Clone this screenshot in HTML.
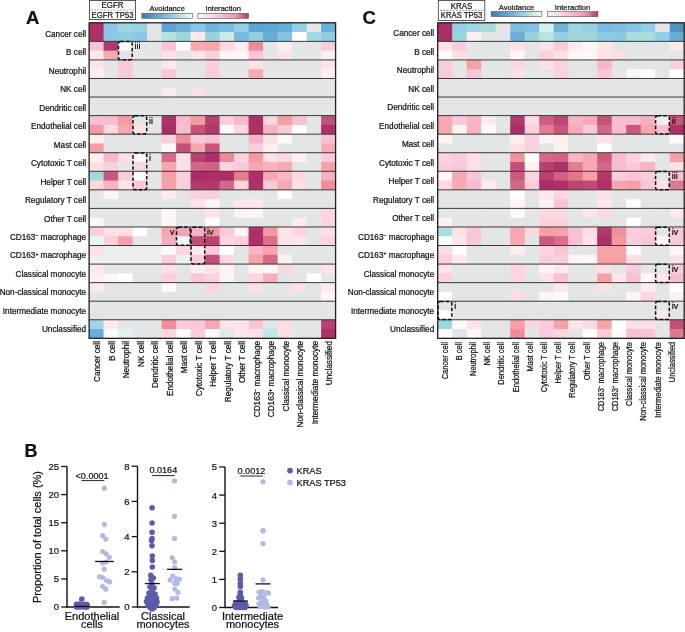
<!DOCTYPE html>
<html><head><meta charset="utf-8"><style>
html,body{margin:0;padding:0;background:#fff;}
svg{display:block;font-family:"Liberation Sans", sans-serif;filter:blur(0.3px);}
text{fill:#111;stroke:#111;stroke-width:0.22px;}
</style></head><body>
<svg width="685" height="632" viewBox="0 0 685 632">
<defs>
<linearGradient id="gav" x1="0" x2="1" y1="0" y2="0">
<stop offset="0" stop-color="#3e7cb0"/><stop offset="0.4" stop-color="#6db0d8"/><stop offset="0.65" stop-color="#9dd4e0"/><stop offset="0.85" stop-color="#cdece8"/><stop offset="1" stop-color="#f6fcfc"/></linearGradient>
<linearGradient id="gint" x1="0" x2="1" y1="0" y2="0">
<stop offset="0" stop-color="#fefafa"/><stop offset="0.45" stop-color="#f8c0d4"/><stop offset="0.75" stop-color="#f297a8"/><stop offset="1" stop-color="#b0376c"/></linearGradient>
</defs>
<rect width="685" height="632" fill="#fff"/>
<rect x="89.10" y="22.80" width="15.50" height="10.28" fill="#ad3068"/>
<rect x="89.10" y="32.08" width="15.50" height="10.28" fill="#ad3068"/>
<rect x="103.60" y="22.80" width="15.50" height="10.28" fill="#8cc5e5"/>
<rect x="103.60" y="32.08" width="15.50" height="10.28" fill="#8cc8e8"/>
<rect x="118.10" y="22.80" width="15.50" height="10.28" fill="#9dd4df"/>
<rect x="118.10" y="32.08" width="15.50" height="10.28" fill="#90cde3"/>
<rect x="132.60" y="22.80" width="15.50" height="10.28" fill="#9ad2e0"/>
<rect x="132.60" y="32.08" width="15.50" height="10.28" fill="#8cc6e8"/>
<rect x="147.10" y="22.80" width="15.50" height="10.28" fill="#e4e5e7"/>
<rect x="147.10" y="32.08" width="15.50" height="10.28" fill="#e4e5e7"/>
<rect x="161.60" y="22.80" width="15.50" height="10.28" fill="#5ea5d5"/>
<rect x="161.60" y="32.08" width="15.50" height="10.28" fill="#b6e3e2"/>
<rect x="176.10" y="22.80" width="15.50" height="10.28" fill="#6cb0da"/>
<rect x="176.10" y="32.08" width="15.50" height="10.28" fill="#9dd6de"/>
<rect x="190.60" y="22.80" width="15.50" height="10.28" fill="#8cc8e6"/>
<rect x="190.60" y="32.08" width="15.50" height="10.28" fill="#fdeaea"/>
<rect x="205.10" y="22.80" width="15.50" height="10.28" fill="#6fb5dd"/>
<rect x="205.10" y="32.08" width="15.50" height="10.28" fill="#9ad3df"/>
<rect x="219.60" y="22.80" width="15.50" height="10.28" fill="#7bbde2"/>
<rect x="219.60" y="32.08" width="15.50" height="10.28" fill="#c9ebe6"/>
<rect x="234.10" y="22.80" width="15.50" height="10.28" fill="#94cfe6"/>
<rect x="234.10" y="32.08" width="15.50" height="10.28" fill="#78b9df"/>
<rect x="248.60" y="22.80" width="15.50" height="10.28" fill="#5ea5d3"/>
<rect x="248.60" y="32.08" width="15.50" height="10.28" fill="#92cfe0"/>
<rect x="263.10" y="22.80" width="15.50" height="10.28" fill="#5fa6d4"/>
<rect x="263.10" y="32.08" width="15.50" height="10.28" fill="#68acd8"/>
<rect x="277.60" y="22.80" width="15.50" height="10.28" fill="#68acd8"/>
<rect x="277.60" y="32.08" width="15.50" height="10.28" fill="#83c3e4"/>
<rect x="292.10" y="22.80" width="15.50" height="10.28" fill="#92cfe9"/>
<rect x="292.10" y="32.08" width="15.50" height="10.28" fill="#fefefe"/>
<rect x="306.60" y="22.80" width="15.50" height="10.28" fill="#e4e5e7"/>
<rect x="306.60" y="32.08" width="15.50" height="10.28" fill="#a3d8e0"/>
<rect x="321.10" y="22.80" width="14.50" height="10.28" fill="#6aaed9"/>
<rect x="321.10" y="32.08" width="14.50" height="10.28" fill="#8fcde6"/>
<rect x="89.10" y="41.36" width="15.50" height="10.28" fill="#f9c3d3"/>
<rect x="89.10" y="50.64" width="15.50" height="10.28" fill="#fde8ea"/>
<rect x="103.60" y="41.36" width="15.50" height="10.28" fill="#b03a6c"/>
<rect x="103.60" y="50.64" width="15.50" height="10.28" fill="#f5a8ae"/>
<rect x="118.10" y="41.36" width="15.50" height="10.28" fill="#fefafa"/>
<rect x="118.10" y="50.64" width="15.50" height="10.28" fill="#e4e5e7"/>
<rect x="132.60" y="41.36" width="15.50" height="10.28" fill="#e4e5e7"/>
<rect x="132.60" y="50.64" width="15.50" height="10.28" fill="#e4e5e7"/>
<rect x="147.10" y="41.36" width="15.50" height="10.28" fill="#e4e5e7"/>
<rect x="147.10" y="50.64" width="15.50" height="10.28" fill="#e4e5e7"/>
<rect x="161.60" y="41.36" width="15.50" height="10.28" fill="#f8c3d5"/>
<rect x="161.60" y="50.64" width="15.50" height="10.28" fill="#fde2e5"/>
<rect x="176.10" y="41.36" width="15.50" height="10.28" fill="#fefefe"/>
<rect x="176.10" y="50.64" width="15.50" height="10.28" fill="#e4e5e7"/>
<rect x="190.60" y="41.36" width="15.50" height="10.28" fill="#f6a8ae"/>
<rect x="190.60" y="50.64" width="15.50" height="10.28" fill="#fde6e6"/>
<rect x="205.10" y="41.36" width="15.50" height="10.28" fill="#f5a5ab"/>
<rect x="205.10" y="50.64" width="15.50" height="10.28" fill="#facfdc"/>
<rect x="219.60" y="41.36" width="15.50" height="10.28" fill="#fdd8de"/>
<rect x="219.60" y="50.64" width="15.50" height="10.28" fill="#fef6f5"/>
<rect x="234.10" y="41.36" width="15.50" height="10.28" fill="#fdeced"/>
<rect x="234.10" y="50.64" width="15.50" height="10.28" fill="#fef6f5"/>
<rect x="248.60" y="41.36" width="15.50" height="10.28" fill="#ec8a98"/>
<rect x="248.60" y="50.64" width="15.50" height="10.28" fill="#f8c3d8"/>
<rect x="263.10" y="41.36" width="15.50" height="10.28" fill="#e4e5e7"/>
<rect x="263.10" y="50.64" width="15.50" height="10.28" fill="#e4e5e7"/>
<rect x="277.60" y="41.36" width="15.50" height="10.28" fill="#fdeeee"/>
<rect x="277.60" y="50.64" width="15.50" height="10.28" fill="#fde5e7"/>
<rect x="292.10" y="41.36" width="15.50" height="10.28" fill="#e4e5e7"/>
<rect x="292.10" y="50.64" width="15.50" height="10.28" fill="#e4e5e7"/>
<rect x="306.60" y="41.36" width="15.50" height="10.28" fill="#e4e5e7"/>
<rect x="306.60" y="50.64" width="15.50" height="10.28" fill="#e4e5e7"/>
<rect x="321.10" y="41.36" width="14.50" height="10.28" fill="#f9cddc"/>
<rect x="321.10" y="50.64" width="14.50" height="10.28" fill="#fdeeef"/>
<rect x="89.10" y="59.92" width="15.50" height="10.28" fill="#fde5e6"/>
<rect x="89.10" y="69.20" width="15.50" height="10.28" fill="#fef0f1"/>
<rect x="103.60" y="59.92" width="15.50" height="10.28" fill="#e4e5e7"/>
<rect x="103.60" y="69.20" width="15.50" height="10.28" fill="#e4e5e7"/>
<rect x="118.10" y="59.92" width="15.50" height="10.28" fill="#f9c8d8"/>
<rect x="118.10" y="69.20" width="15.50" height="10.28" fill="#f9cbd9"/>
<rect x="132.60" y="59.92" width="15.50" height="10.28" fill="#e4e5e7"/>
<rect x="132.60" y="69.20" width="15.50" height="10.28" fill="#e4e5e7"/>
<rect x="147.10" y="59.92" width="15.50" height="10.28" fill="#e4e5e7"/>
<rect x="147.10" y="69.20" width="15.50" height="10.28" fill="#e4e5e7"/>
<rect x="161.60" y="59.92" width="15.50" height="10.28" fill="#fde9ea"/>
<rect x="161.60" y="69.20" width="15.50" height="10.28" fill="#f8c8d8"/>
<rect x="176.10" y="59.92" width="15.50" height="10.28" fill="#e4e5e7"/>
<rect x="176.10" y="69.20" width="15.50" height="10.28" fill="#e4e5e7"/>
<rect x="190.60" y="59.92" width="15.50" height="10.28" fill="#e4e5e7"/>
<rect x="190.60" y="69.20" width="15.50" height="10.28" fill="#e4e5e7"/>
<rect x="205.10" y="59.92" width="15.50" height="10.28" fill="#f9d0dc"/>
<rect x="205.10" y="69.20" width="15.50" height="10.28" fill="#f9ccdb"/>
<rect x="219.60" y="59.92" width="15.50" height="10.28" fill="#e4e5e7"/>
<rect x="219.60" y="69.20" width="15.50" height="10.28" fill="#e4e5e7"/>
<rect x="234.10" y="59.92" width="15.50" height="10.28" fill="#e4e5e7"/>
<rect x="234.10" y="69.20" width="15.50" height="10.28" fill="#e4e5e7"/>
<rect x="248.60" y="59.92" width="15.50" height="10.28" fill="#fde0e4"/>
<rect x="248.60" y="69.20" width="15.50" height="10.28" fill="#f6a9b3"/>
<rect x="263.10" y="59.92" width="15.50" height="10.28" fill="#e4e5e7"/>
<rect x="263.10" y="69.20" width="15.50" height="10.28" fill="#e4e5e7"/>
<rect x="277.60" y="59.92" width="15.50" height="10.28" fill="#e4e5e7"/>
<rect x="277.60" y="69.20" width="15.50" height="10.28" fill="#e4e5e7"/>
<rect x="292.10" y="59.92" width="15.50" height="10.28" fill="#e4e5e7"/>
<rect x="292.10" y="69.20" width="15.50" height="10.28" fill="#e4e5e7"/>
<rect x="306.60" y="59.92" width="15.50" height="10.28" fill="#e4e5e7"/>
<rect x="306.60" y="69.20" width="15.50" height="10.28" fill="#e4e5e7"/>
<rect x="321.10" y="59.92" width="14.50" height="10.28" fill="#fde2e6"/>
<rect x="321.10" y="69.20" width="14.50" height="10.28" fill="#fef0f0"/>
<rect x="89.10" y="78.48" width="15.50" height="10.28" fill="#e4e5e7"/>
<rect x="89.10" y="87.76" width="15.50" height="10.28" fill="#e4e5e7"/>
<rect x="103.60" y="78.48" width="15.50" height="10.28" fill="#e4e5e7"/>
<rect x="103.60" y="87.76" width="15.50" height="10.28" fill="#e4e5e7"/>
<rect x="118.10" y="78.48" width="15.50" height="10.28" fill="#e4e5e7"/>
<rect x="118.10" y="87.76" width="15.50" height="10.28" fill="#e4e5e7"/>
<rect x="132.60" y="78.48" width="15.50" height="10.28" fill="#e4e5e7"/>
<rect x="132.60" y="87.76" width="15.50" height="10.28" fill="#e4e5e7"/>
<rect x="147.10" y="78.48" width="15.50" height="10.28" fill="#e4e5e7"/>
<rect x="147.10" y="87.76" width="15.50" height="10.28" fill="#e4e5e7"/>
<rect x="161.60" y="78.48" width="15.50" height="10.28" fill="#e4e5e7"/>
<rect x="161.60" y="87.76" width="15.50" height="10.28" fill="#fdecec"/>
<rect x="176.10" y="78.48" width="15.50" height="10.28" fill="#e4e5e7"/>
<rect x="176.10" y="87.76" width="15.50" height="10.28" fill="#e4e5e7"/>
<rect x="190.60" y="78.48" width="15.50" height="10.28" fill="#e4e5e7"/>
<rect x="190.60" y="87.76" width="15.50" height="10.28" fill="#fbe0e4"/>
<rect x="205.10" y="78.48" width="15.50" height="10.28" fill="#e4e5e7"/>
<rect x="205.10" y="87.76" width="15.50" height="10.28" fill="#e4e5e7"/>
<rect x="219.60" y="78.48" width="15.50" height="10.28" fill="#e4e5e7"/>
<rect x="219.60" y="87.76" width="15.50" height="10.28" fill="#e4e5e7"/>
<rect x="234.10" y="78.48" width="15.50" height="10.28" fill="#e4e5e7"/>
<rect x="234.10" y="87.76" width="15.50" height="10.28" fill="#e4e5e7"/>
<rect x="248.60" y="78.48" width="15.50" height="10.28" fill="#e4e5e7"/>
<rect x="248.60" y="87.76" width="15.50" height="10.28" fill="#e4e5e7"/>
<rect x="263.10" y="78.48" width="15.50" height="10.28" fill="#e4e5e7"/>
<rect x="263.10" y="87.76" width="15.50" height="10.28" fill="#e4e5e7"/>
<rect x="277.60" y="78.48" width="15.50" height="10.28" fill="#e4e5e7"/>
<rect x="277.60" y="87.76" width="15.50" height="10.28" fill="#e4e5e7"/>
<rect x="292.10" y="78.48" width="15.50" height="10.28" fill="#e4e5e7"/>
<rect x="292.10" y="87.76" width="15.50" height="10.28" fill="#e4e5e7"/>
<rect x="306.60" y="78.48" width="15.50" height="10.28" fill="#e4e5e7"/>
<rect x="306.60" y="87.76" width="15.50" height="10.28" fill="#e4e5e7"/>
<rect x="321.10" y="78.48" width="14.50" height="10.28" fill="#e4e5e7"/>
<rect x="321.10" y="87.76" width="14.50" height="10.28" fill="#e4e5e7"/>
<rect x="89.10" y="97.04" width="15.50" height="10.28" fill="#e4e5e7"/>
<rect x="89.10" y="106.32" width="15.50" height="10.28" fill="#e4e5e7"/>
<rect x="103.60" y="97.04" width="15.50" height="10.28" fill="#e4e5e7"/>
<rect x="103.60" y="106.32" width="15.50" height="10.28" fill="#e4e5e7"/>
<rect x="118.10" y="97.04" width="15.50" height="10.28" fill="#e4e5e7"/>
<rect x="118.10" y="106.32" width="15.50" height="10.28" fill="#e4e5e7"/>
<rect x="132.60" y="97.04" width="15.50" height="10.28" fill="#e4e5e7"/>
<rect x="132.60" y="106.32" width="15.50" height="10.28" fill="#e4e5e7"/>
<rect x="147.10" y="97.04" width="15.50" height="10.28" fill="#e4e5e7"/>
<rect x="147.10" y="106.32" width="15.50" height="10.28" fill="#e4e5e7"/>
<rect x="161.60" y="97.04" width="15.50" height="10.28" fill="#e4e5e7"/>
<rect x="161.60" y="106.32" width="15.50" height="10.28" fill="#e4e5e7"/>
<rect x="176.10" y="97.04" width="15.50" height="10.28" fill="#e4e5e7"/>
<rect x="176.10" y="106.32" width="15.50" height="10.28" fill="#e4e5e7"/>
<rect x="190.60" y="97.04" width="15.50" height="10.28" fill="#e4e5e7"/>
<rect x="190.60" y="106.32" width="15.50" height="10.28" fill="#e4e5e7"/>
<rect x="205.10" y="97.04" width="15.50" height="10.28" fill="#e4e5e7"/>
<rect x="205.10" y="106.32" width="15.50" height="10.28" fill="#e4e5e7"/>
<rect x="219.60" y="97.04" width="15.50" height="10.28" fill="#e4e5e7"/>
<rect x="219.60" y="106.32" width="15.50" height="10.28" fill="#e4e5e7"/>
<rect x="234.10" y="97.04" width="15.50" height="10.28" fill="#e4e5e7"/>
<rect x="234.10" y="106.32" width="15.50" height="10.28" fill="#e4e5e7"/>
<rect x="248.60" y="97.04" width="15.50" height="10.28" fill="#e4e5e7"/>
<rect x="248.60" y="106.32" width="15.50" height="10.28" fill="#e4e5e7"/>
<rect x="263.10" y="97.04" width="15.50" height="10.28" fill="#e4e5e7"/>
<rect x="263.10" y="106.32" width="15.50" height="10.28" fill="#e4e5e7"/>
<rect x="277.60" y="97.04" width="15.50" height="10.28" fill="#e4e5e7"/>
<rect x="277.60" y="106.32" width="15.50" height="10.28" fill="#e4e5e7"/>
<rect x="292.10" y="97.04" width="15.50" height="10.28" fill="#e4e5e7"/>
<rect x="292.10" y="106.32" width="15.50" height="10.28" fill="#e4e5e7"/>
<rect x="306.60" y="97.04" width="15.50" height="10.28" fill="#e4e5e7"/>
<rect x="306.60" y="106.32" width="15.50" height="10.28" fill="#e4e5e7"/>
<rect x="321.10" y="97.04" width="14.50" height="10.28" fill="#e4e5e7"/>
<rect x="321.10" y="106.32" width="14.50" height="10.28" fill="#e4e5e7"/>
<rect x="89.10" y="115.60" width="15.50" height="10.28" fill="#f9bfcf"/>
<rect x="89.10" y="124.88" width="15.50" height="10.28" fill="#f49aa3"/>
<rect x="103.60" y="115.60" width="15.50" height="10.28" fill="#f8bcd2"/>
<rect x="103.60" y="124.88" width="15.50" height="10.28" fill="#fcd9e0"/>
<rect x="118.10" y="115.60" width="15.50" height="10.28" fill="#f59a9f"/>
<rect x="118.10" y="124.88" width="15.50" height="10.28" fill="#f6a7ae"/>
<rect x="132.60" y="115.60" width="15.50" height="10.28" fill="#e4e5e7"/>
<rect x="132.60" y="124.88" width="15.50" height="10.28" fill="#fde2e5"/>
<rect x="147.10" y="115.60" width="15.50" height="10.28" fill="#e4e5e7"/>
<rect x="147.10" y="124.88" width="15.50" height="10.28" fill="#e4e5e7"/>
<rect x="161.60" y="115.60" width="15.50" height="10.28" fill="#ae3168"/>
<rect x="161.60" y="124.88" width="15.50" height="10.28" fill="#a92d65"/>
<rect x="176.10" y="115.60" width="15.50" height="10.28" fill="#f8bbcc"/>
<rect x="176.10" y="124.88" width="15.50" height="10.28" fill="#f8bed0"/>
<rect x="190.60" y="115.60" width="15.50" height="10.28" fill="#f49d9e"/>
<rect x="190.60" y="124.88" width="15.50" height="10.28" fill="#cc5378"/>
<rect x="205.10" y="115.60" width="15.50" height="10.28" fill="#b7406f"/>
<rect x="205.10" y="124.88" width="15.50" height="10.28" fill="#b13a6c"/>
<rect x="219.60" y="115.60" width="15.50" height="10.28" fill="#f9cdda"/>
<rect x="219.60" y="124.88" width="15.50" height="10.28" fill="#fff8f6"/>
<rect x="234.10" y="115.60" width="15.50" height="10.28" fill="#f7b8c8"/>
<rect x="234.10" y="124.88" width="15.50" height="10.28" fill="#fbd6df"/>
<rect x="248.60" y="115.60" width="15.50" height="10.28" fill="#ad3068"/>
<rect x="248.60" y="124.88" width="15.50" height="10.28" fill="#ad3068"/>
<rect x="263.10" y="115.60" width="15.50" height="10.28" fill="#fbd5de"/>
<rect x="263.10" y="124.88" width="15.50" height="10.28" fill="#f7b2bf"/>
<rect x="277.60" y="115.60" width="15.50" height="10.28" fill="#f59ea0"/>
<rect x="277.60" y="124.88" width="15.50" height="10.28" fill="#f8cbdb"/>
<rect x="292.10" y="115.60" width="15.50" height="10.28" fill="#f8c0d3"/>
<rect x="292.10" y="124.88" width="15.50" height="10.28" fill="#ffffff"/>
<rect x="306.60" y="115.60" width="15.50" height="10.28" fill="#e4e5e7"/>
<rect x="306.60" y="124.88" width="15.50" height="10.28" fill="#e4e5e7"/>
<rect x="321.10" y="115.60" width="14.50" height="10.28" fill="#c0507a"/>
<rect x="321.10" y="124.88" width="14.50" height="10.28" fill="#ad3068"/>
<rect x="89.10" y="134.16" width="15.50" height="10.28" fill="#fef0f0"/>
<rect x="89.10" y="143.44" width="15.50" height="10.28" fill="#f59da4"/>
<rect x="103.60" y="134.16" width="15.50" height="10.28" fill="#e4e5e7"/>
<rect x="103.60" y="143.44" width="15.50" height="10.28" fill="#e4e5e7"/>
<rect x="118.10" y="134.16" width="15.50" height="10.28" fill="#e4e5e7"/>
<rect x="118.10" y="143.44" width="15.50" height="10.28" fill="#e4e5e7"/>
<rect x="132.60" y="134.16" width="15.50" height="10.28" fill="#e4e5e7"/>
<rect x="132.60" y="143.44" width="15.50" height="10.28" fill="#e4e5e7"/>
<rect x="147.10" y="134.16" width="15.50" height="10.28" fill="#e4e5e7"/>
<rect x="147.10" y="143.44" width="15.50" height="10.28" fill="#e4e5e7"/>
<rect x="161.60" y="134.16" width="15.50" height="10.28" fill="#f9cfdc"/>
<rect x="161.60" y="143.44" width="15.50" height="10.28" fill="#fff6f5"/>
<rect x="176.10" y="134.16" width="15.50" height="10.28" fill="#ef8c97"/>
<rect x="176.10" y="143.44" width="15.50" height="10.28" fill="#c55079"/>
<rect x="190.60" y="134.16" width="15.50" height="10.28" fill="#f8c6da"/>
<rect x="190.60" y="143.44" width="15.50" height="10.28" fill="#f6a7b0"/>
<rect x="205.10" y="134.16" width="15.50" height="10.28" fill="#f8c0d3"/>
<rect x="205.10" y="143.44" width="15.50" height="10.28" fill="#c9547b"/>
<rect x="219.60" y="134.16" width="15.50" height="10.28" fill="#e4e5e7"/>
<rect x="219.60" y="143.44" width="15.50" height="10.28" fill="#e4e5e7"/>
<rect x="234.10" y="134.16" width="15.50" height="10.28" fill="#e4e5e7"/>
<rect x="234.10" y="143.44" width="15.50" height="10.28" fill="#e4e5e7"/>
<rect x="248.60" y="134.16" width="15.50" height="10.28" fill="#f6b3c3"/>
<rect x="248.60" y="143.44" width="15.50" height="10.28" fill="#f9cedc"/>
<rect x="263.10" y="134.16" width="15.50" height="10.28" fill="#fcdfe2"/>
<rect x="263.10" y="143.44" width="15.50" height="10.28" fill="#fdedee"/>
<rect x="277.60" y="134.16" width="15.50" height="10.28" fill="#fffaf8"/>
<rect x="277.60" y="143.44" width="15.50" height="10.28" fill="#e4e5e7"/>
<rect x="292.10" y="134.16" width="15.50" height="10.28" fill="#e4e5e7"/>
<rect x="292.10" y="143.44" width="15.50" height="10.28" fill="#e4e5e7"/>
<rect x="306.60" y="134.16" width="15.50" height="10.28" fill="#e4e5e7"/>
<rect x="306.60" y="143.44" width="15.50" height="10.28" fill="#e4e5e7"/>
<rect x="321.10" y="134.16" width="14.50" height="10.28" fill="#f9c3d5"/>
<rect x="321.10" y="143.44" width="14.50" height="10.28" fill="#f6acb4"/>
<rect x="89.10" y="152.72" width="15.50" height="10.28" fill="#fdeeef"/>
<rect x="89.10" y="162.00" width="15.50" height="10.28" fill="#fde0e5"/>
<rect x="103.60" y="152.72" width="15.50" height="10.28" fill="#f7b8c9"/>
<rect x="103.60" y="162.00" width="15.50" height="10.28" fill="#f9d0dc"/>
<rect x="118.10" y="152.72" width="15.50" height="10.28" fill="#fddee2"/>
<rect x="118.10" y="162.00" width="15.50" height="10.28" fill="#e4e5e7"/>
<rect x="132.60" y="152.72" width="15.50" height="10.28" fill="#fef9f8"/>
<rect x="132.60" y="162.00" width="15.50" height="10.28" fill="#fbd7df"/>
<rect x="147.10" y="152.72" width="15.50" height="10.28" fill="#e4e5e7"/>
<rect x="147.10" y="162.00" width="15.50" height="10.28" fill="#e4e5e7"/>
<rect x="161.60" y="152.72" width="15.50" height="10.28" fill="#d66a87"/>
<rect x="161.60" y="162.00" width="15.50" height="10.28" fill="#f5a6ae"/>
<rect x="176.10" y="152.72" width="15.50" height="10.28" fill="#fde0e4"/>
<rect x="176.10" y="162.00" width="15.50" height="10.28" fill="#fde0e3"/>
<rect x="190.60" y="152.72" width="15.50" height="10.28" fill="#b8416e"/>
<rect x="190.60" y="162.00" width="15.50" height="10.28" fill="#d2678a"/>
<rect x="205.10" y="152.72" width="15.50" height="10.28" fill="#ae2f67"/>
<rect x="205.10" y="162.00" width="15.50" height="10.28" fill="#cf6285"/>
<rect x="219.60" y="152.72" width="15.50" height="10.28" fill="#ec8b98"/>
<rect x="219.60" y="162.00" width="15.50" height="10.28" fill="#fad3df"/>
<rect x="234.10" y="152.72" width="15.50" height="10.28" fill="#fbd3de"/>
<rect x="234.10" y="162.00" width="15.50" height="10.28" fill="#f9c8da"/>
<rect x="248.60" y="152.72" width="15.50" height="10.28" fill="#f29aa0"/>
<rect x="248.60" y="162.00" width="15.50" height="10.28" fill="#f6a6ae"/>
<rect x="263.10" y="152.72" width="15.50" height="10.28" fill="#fde0e3"/>
<rect x="263.10" y="162.00" width="15.50" height="10.28" fill="#f7b3be"/>
<rect x="277.60" y="152.72" width="15.50" height="10.28" fill="#fbd8e0"/>
<rect x="277.60" y="162.00" width="15.50" height="10.28" fill="#f6aab5"/>
<rect x="292.10" y="152.72" width="15.50" height="10.28" fill="#fef1f0"/>
<rect x="292.10" y="162.00" width="15.50" height="10.28" fill="#e4e5e7"/>
<rect x="306.60" y="152.72" width="15.50" height="10.28" fill="#e4e5e7"/>
<rect x="306.60" y="162.00" width="15.50" height="10.28" fill="#e4e5e7"/>
<rect x="321.10" y="152.72" width="14.50" height="10.28" fill="#f9cadf"/>
<rect x="321.10" y="162.00" width="14.50" height="10.28" fill="#f5a1a6"/>
<rect x="89.10" y="171.28" width="15.50" height="10.28" fill="#a6d9dd"/>
<rect x="89.10" y="180.56" width="15.50" height="10.28" fill="#fcd9df"/>
<rect x="103.60" y="171.28" width="15.50" height="10.28" fill="#c9587c"/>
<rect x="103.60" y="180.56" width="15.50" height="10.28" fill="#f7b4c4"/>
<rect x="118.10" y="171.28" width="15.50" height="10.28" fill="#f9cddc"/>
<rect x="118.10" y="180.56" width="15.50" height="10.28" fill="#fde5e8"/>
<rect x="132.60" y="171.28" width="15.50" height="10.28" fill="#ffffff"/>
<rect x="132.60" y="180.56" width="15.50" height="10.28" fill="#f9c8da"/>
<rect x="147.10" y="171.28" width="15.50" height="10.28" fill="#e4e5e7"/>
<rect x="147.10" y="180.56" width="15.50" height="10.28" fill="#e4e5e7"/>
<rect x="161.60" y="171.28" width="15.50" height="10.28" fill="#f5a0a6"/>
<rect x="161.60" y="180.56" width="15.50" height="10.28" fill="#f5a2a8"/>
<rect x="176.10" y="171.28" width="15.50" height="10.28" fill="#f9cfdc"/>
<rect x="176.10" y="180.56" width="15.50" height="10.28" fill="#f9d0dd"/>
<rect x="190.60" y="171.28" width="15.50" height="10.28" fill="#aa2d66"/>
<rect x="190.60" y="180.56" width="15.50" height="10.28" fill="#b03a6c"/>
<rect x="205.10" y="171.28" width="15.50" height="10.28" fill="#ae3068"/>
<rect x="205.10" y="180.56" width="15.50" height="10.28" fill="#b2386c"/>
<rect x="219.60" y="171.28" width="15.50" height="10.28" fill="#ab2e67"/>
<rect x="219.60" y="180.56" width="15.50" height="10.28" fill="#d26a86"/>
<rect x="234.10" y="171.28" width="15.50" height="10.28" fill="#e37e8c"/>
<rect x="234.10" y="180.56" width="15.50" height="10.28" fill="#fbd5de"/>
<rect x="248.60" y="171.28" width="15.50" height="10.28" fill="#ad3068"/>
<rect x="248.60" y="180.56" width="15.50" height="10.28" fill="#ad3068"/>
<rect x="263.10" y="171.28" width="15.50" height="10.28" fill="#f6a9ae"/>
<rect x="263.10" y="180.56" width="15.50" height="10.28" fill="#f8cbdc"/>
<rect x="277.60" y="171.28" width="15.50" height="10.28" fill="#f7b8c8"/>
<rect x="277.60" y="180.56" width="15.50" height="10.28" fill="#f6a7b0"/>
<rect x="292.10" y="171.28" width="15.50" height="10.28" fill="#fdd9de"/>
<rect x="292.10" y="180.56" width="15.50" height="10.28" fill="#fde0e3"/>
<rect x="306.60" y="171.28" width="15.50" height="10.28" fill="#e4e5e7"/>
<rect x="306.60" y="180.56" width="15.50" height="10.28" fill="#e4e5e7"/>
<rect x="321.10" y="171.28" width="14.50" height="10.28" fill="#f6b0be"/>
<rect x="321.10" y="180.56" width="14.50" height="10.28" fill="#f08f98"/>
<rect x="89.10" y="189.84" width="15.50" height="10.28" fill="#e4e5e7"/>
<rect x="89.10" y="199.12" width="15.50" height="10.28" fill="#e4e5e7"/>
<rect x="103.60" y="189.84" width="15.50" height="10.28" fill="#fef5f3"/>
<rect x="103.60" y="199.12" width="15.50" height="10.28" fill="#e4e5e7"/>
<rect x="118.10" y="189.84" width="15.50" height="10.28" fill="#e4e5e7"/>
<rect x="118.10" y="199.12" width="15.50" height="10.28" fill="#e4e5e7"/>
<rect x="132.60" y="189.84" width="15.50" height="10.28" fill="#e4e5e7"/>
<rect x="132.60" y="199.12" width="15.50" height="10.28" fill="#e4e5e7"/>
<rect x="147.10" y="189.84" width="15.50" height="10.28" fill="#e4e5e7"/>
<rect x="147.10" y="199.12" width="15.50" height="10.28" fill="#e4e5e7"/>
<rect x="161.60" y="189.84" width="15.50" height="10.28" fill="#fdeaea"/>
<rect x="161.60" y="199.12" width="15.50" height="10.28" fill="#e4e5e7"/>
<rect x="176.10" y="189.84" width="15.50" height="10.28" fill="#e4e5e7"/>
<rect x="176.10" y="199.12" width="15.50" height="10.28" fill="#e4e5e7"/>
<rect x="190.60" y="189.84" width="15.50" height="10.28" fill="#f9d0dd"/>
<rect x="190.60" y="199.12" width="15.50" height="10.28" fill="#fde3e5"/>
<rect x="205.10" y="189.84" width="15.50" height="10.28" fill="#f9d0dd"/>
<rect x="205.10" y="199.12" width="15.50" height="10.28" fill="#fef6f5"/>
<rect x="219.60" y="189.84" width="15.50" height="10.28" fill="#e4e5e7"/>
<rect x="219.60" y="199.12" width="15.50" height="10.28" fill="#e4e5e7"/>
<rect x="234.10" y="189.84" width="15.50" height="10.28" fill="#e4e5e7"/>
<rect x="234.10" y="199.12" width="15.50" height="10.28" fill="#fde6e8"/>
<rect x="248.60" y="189.84" width="15.50" height="10.28" fill="#e4e5e7"/>
<rect x="248.60" y="199.12" width="15.50" height="10.28" fill="#fde8ea"/>
<rect x="263.10" y="189.84" width="15.50" height="10.28" fill="#e4e5e7"/>
<rect x="263.10" y="199.12" width="15.50" height="10.28" fill="#e4e5e7"/>
<rect x="277.60" y="189.84" width="15.50" height="10.28" fill="#ffffff"/>
<rect x="277.60" y="199.12" width="15.50" height="10.28" fill="#e4e5e7"/>
<rect x="292.10" y="189.84" width="15.50" height="10.28" fill="#e4e5e7"/>
<rect x="292.10" y="199.12" width="15.50" height="10.28" fill="#e4e5e7"/>
<rect x="306.60" y="189.84" width="15.50" height="10.28" fill="#e4e5e7"/>
<rect x="306.60" y="199.12" width="15.50" height="10.28" fill="#e4e5e7"/>
<rect x="321.10" y="189.84" width="14.50" height="10.28" fill="#e4e5e7"/>
<rect x="321.10" y="199.12" width="14.50" height="10.28" fill="#e4e5e7"/>
<rect x="89.10" y="208.40" width="15.50" height="10.28" fill="#e4e5e7"/>
<rect x="89.10" y="217.68" width="15.50" height="10.28" fill="#fef5f4"/>
<rect x="103.60" y="208.40" width="15.50" height="10.28" fill="#e4e5e7"/>
<rect x="103.60" y="217.68" width="15.50" height="10.28" fill="#e4e5e7"/>
<rect x="118.10" y="208.40" width="15.50" height="10.28" fill="#e4e5e7"/>
<rect x="118.10" y="217.68" width="15.50" height="10.28" fill="#e4e5e7"/>
<rect x="132.60" y="208.40" width="15.50" height="10.28" fill="#e4e5e7"/>
<rect x="132.60" y="217.68" width="15.50" height="10.28" fill="#e4e5e7"/>
<rect x="147.10" y="208.40" width="15.50" height="10.28" fill="#e4e5e7"/>
<rect x="147.10" y="217.68" width="15.50" height="10.28" fill="#e4e5e7"/>
<rect x="161.60" y="208.40" width="15.50" height="10.28" fill="#fff8f6"/>
<rect x="161.60" y="217.68" width="15.50" height="10.28" fill="#fef6f4"/>
<rect x="176.10" y="208.40" width="15.50" height="10.28" fill="#e4e5e7"/>
<rect x="176.10" y="217.68" width="15.50" height="10.28" fill="#e4e5e7"/>
<rect x="190.60" y="208.40" width="15.50" height="10.28" fill="#e4e5e7"/>
<rect x="190.60" y="217.68" width="15.50" height="10.28" fill="#e4e5e7"/>
<rect x="205.10" y="208.40" width="15.50" height="10.28" fill="#fde3e6"/>
<rect x="205.10" y="217.68" width="15.50" height="10.28" fill="#ffffff"/>
<rect x="219.60" y="208.40" width="15.50" height="10.28" fill="#e4e5e7"/>
<rect x="219.60" y="217.68" width="15.50" height="10.28" fill="#e4e5e7"/>
<rect x="234.10" y="208.40" width="15.50" height="10.28" fill="#fef3f2"/>
<rect x="234.10" y="217.68" width="15.50" height="10.28" fill="#e4e5e7"/>
<rect x="248.60" y="208.40" width="15.50" height="10.28" fill="#fef5f4"/>
<rect x="248.60" y="217.68" width="15.50" height="10.28" fill="#e4e5e7"/>
<rect x="263.10" y="208.40" width="15.50" height="10.28" fill="#e4e5e7"/>
<rect x="263.10" y="217.68" width="15.50" height="10.28" fill="#e4e5e7"/>
<rect x="277.60" y="208.40" width="15.50" height="10.28" fill="#e4e5e7"/>
<rect x="277.60" y="217.68" width="15.50" height="10.28" fill="#e4e5e7"/>
<rect x="292.10" y="208.40" width="15.50" height="10.28" fill="#e4e5e7"/>
<rect x="292.10" y="217.68" width="15.50" height="10.28" fill="#fdeced"/>
<rect x="306.60" y="208.40" width="15.50" height="10.28" fill="#e4e5e7"/>
<rect x="306.60" y="217.68" width="15.50" height="10.28" fill="#e4e5e7"/>
<rect x="321.10" y="208.40" width="14.50" height="10.28" fill="#fbd6df"/>
<rect x="321.10" y="217.68" width="14.50" height="10.28" fill="#fbd6df"/>
<rect x="89.10" y="226.96" width="15.50" height="10.28" fill="#f9cfdc"/>
<rect x="89.10" y="236.24" width="15.50" height="10.28" fill="#e5f5f4"/>
<rect x="103.60" y="226.96" width="15.50" height="10.28" fill="#fde0e5"/>
<rect x="103.60" y="236.24" width="15.50" height="10.28" fill="#fad0dc"/>
<rect x="118.10" y="226.96" width="15.50" height="10.28" fill="#fde0e4"/>
<rect x="118.10" y="236.24" width="15.50" height="10.28" fill="#f5a1a7"/>
<rect x="132.60" y="226.96" width="15.50" height="10.28" fill="#ffffff"/>
<rect x="132.60" y="236.24" width="15.50" height="10.28" fill="#e4e5e7"/>
<rect x="147.10" y="226.96" width="15.50" height="10.28" fill="#e4e5e7"/>
<rect x="147.10" y="236.24" width="15.50" height="10.28" fill="#e4e5e7"/>
<rect x="161.60" y="226.96" width="15.50" height="10.28" fill="#f6a6ae"/>
<rect x="161.60" y="236.24" width="15.50" height="10.28" fill="#f6aebc"/>
<rect x="176.10" y="226.96" width="15.50" height="10.28" fill="#f5a3b8"/>
<rect x="176.10" y="236.24" width="15.50" height="10.28" fill="#eaf6f5"/>
<rect x="190.60" y="226.96" width="15.50" height="10.28" fill="#f6b0c6"/>
<rect x="190.60" y="236.24" width="15.50" height="10.28" fill="#c04e7a"/>
<rect x="205.10" y="226.96" width="15.50" height="10.28" fill="#f29aa0"/>
<rect x="205.10" y="236.24" width="15.50" height="10.28" fill="#b84573"/>
<rect x="219.60" y="226.96" width="15.50" height="10.28" fill="#f9cadc"/>
<rect x="219.60" y="236.24" width="15.50" height="10.28" fill="#fbd5df"/>
<rect x="234.10" y="226.96" width="15.50" height="10.28" fill="#fef5f3"/>
<rect x="234.10" y="236.24" width="15.50" height="10.28" fill="#f9cfdc"/>
<rect x="248.60" y="226.96" width="15.50" height="10.28" fill="#ad3068"/>
<rect x="248.60" y="236.24" width="15.50" height="10.28" fill="#ad3068"/>
<rect x="263.10" y="226.96" width="15.50" height="10.28" fill="#f29a9f"/>
<rect x="263.10" y="236.24" width="15.50" height="10.28" fill="#d96f8b"/>
<rect x="277.60" y="226.96" width="15.50" height="10.28" fill="#fde3e6"/>
<rect x="277.60" y="236.24" width="15.50" height="10.28" fill="#fde3e6"/>
<rect x="292.10" y="226.96" width="15.50" height="10.28" fill="#fbd4de"/>
<rect x="292.10" y="236.24" width="15.50" height="10.28" fill="#fde5e7"/>
<rect x="306.60" y="226.96" width="15.50" height="10.28" fill="#e4e5e7"/>
<rect x="306.60" y="236.24" width="15.50" height="10.28" fill="#e4e5e7"/>
<rect x="321.10" y="226.96" width="14.50" height="10.28" fill="#fde0e4"/>
<rect x="321.10" y="236.24" width="14.50" height="10.28" fill="#fbd4df"/>
<rect x="89.10" y="245.52" width="15.50" height="10.28" fill="#fde0e4"/>
<rect x="89.10" y="254.80" width="15.50" height="10.28" fill="#eef0ef"/>
<rect x="103.60" y="245.52" width="15.50" height="10.28" fill="#eef0ef"/>
<rect x="103.60" y="254.80" width="15.50" height="10.28" fill="#eef0ef"/>
<rect x="118.10" y="245.52" width="15.50" height="10.28" fill="#eef0ef"/>
<rect x="118.10" y="254.80" width="15.50" height="10.28" fill="#eef0ef"/>
<rect x="132.60" y="245.52" width="15.50" height="10.28" fill="#eef0ef"/>
<rect x="132.60" y="254.80" width="15.50" height="10.28" fill="#eef0ef"/>
<rect x="147.10" y="245.52" width="15.50" height="10.28" fill="#eef0ef"/>
<rect x="147.10" y="254.80" width="15.50" height="10.28" fill="#eef0ef"/>
<rect x="161.60" y="245.52" width="15.50" height="10.28" fill="#fffafa"/>
<rect x="161.60" y="254.80" width="15.50" height="10.28" fill="#f9cfdc"/>
<rect x="176.10" y="245.52" width="15.50" height="10.28" fill="#fbd4df"/>
<rect x="176.10" y="254.80" width="15.50" height="10.28" fill="#eef0ef"/>
<rect x="190.60" y="245.52" width="15.50" height="10.28" fill="#fdeced"/>
<rect x="190.60" y="254.80" width="15.50" height="10.28" fill="#f9cbdb"/>
<rect x="205.10" y="245.52" width="15.50" height="10.28" fill="#f8c9d9"/>
<rect x="205.10" y="254.80" width="15.50" height="10.28" fill="#c0507a"/>
<rect x="219.60" y="245.52" width="15.50" height="10.28" fill="#ffffff"/>
<rect x="219.60" y="254.80" width="15.50" height="10.28" fill="#fbd6df"/>
<rect x="234.10" y="245.52" width="15.50" height="10.28" fill="#e4e5e7"/>
<rect x="234.10" y="254.80" width="15.50" height="10.28" fill="#e4e5e7"/>
<rect x="248.60" y="245.52" width="15.50" height="10.28" fill="#f7b4c5"/>
<rect x="248.60" y="254.80" width="15.50" height="10.28" fill="#f5a2a6"/>
<rect x="263.10" y="245.52" width="15.50" height="10.28" fill="#f5a3a9"/>
<rect x="263.10" y="254.80" width="15.50" height="10.28" fill="#d26a88"/>
<rect x="277.60" y="245.52" width="15.50" height="10.28" fill="#e4e5e7"/>
<rect x="277.60" y="254.80" width="15.50" height="10.28" fill="#fef1f0"/>
<rect x="292.10" y="245.52" width="15.50" height="10.28" fill="#e4e5e7"/>
<rect x="292.10" y="254.80" width="15.50" height="10.28" fill="#e4e5e7"/>
<rect x="306.60" y="245.52" width="15.50" height="10.28" fill="#e4e5e7"/>
<rect x="306.60" y="254.80" width="15.50" height="10.28" fill="#e4e5e7"/>
<rect x="321.10" y="245.52" width="14.50" height="10.28" fill="#e4e5e7"/>
<rect x="321.10" y="254.80" width="14.50" height="10.28" fill="#e4e5e7"/>
<rect x="89.10" y="264.08" width="15.50" height="10.28" fill="#fde8ea"/>
<rect x="89.10" y="273.36" width="15.50" height="10.28" fill="#fef0f0"/>
<rect x="103.60" y="264.08" width="15.50" height="10.28" fill="#e4e5e7"/>
<rect x="103.60" y="273.36" width="15.50" height="10.28" fill="#fef6f4"/>
<rect x="118.10" y="264.08" width="15.50" height="10.28" fill="#e4e5e7"/>
<rect x="118.10" y="273.36" width="15.50" height="10.28" fill="#ffffff"/>
<rect x="132.60" y="264.08" width="15.50" height="10.28" fill="#e4e5e7"/>
<rect x="132.60" y="273.36" width="15.50" height="10.28" fill="#e4e5e7"/>
<rect x="147.10" y="264.08" width="15.50" height="10.28" fill="#e4e5e7"/>
<rect x="147.10" y="273.36" width="15.50" height="10.28" fill="#e4e5e7"/>
<rect x="161.60" y="264.08" width="15.50" height="10.28" fill="#fde0e4"/>
<rect x="161.60" y="273.36" width="15.50" height="10.28" fill="#f9d0dc"/>
<rect x="176.10" y="264.08" width="15.50" height="10.28" fill="#e4e5e7"/>
<rect x="176.10" y="273.36" width="15.50" height="10.28" fill="#e4e5e7"/>
<rect x="190.60" y="264.08" width="15.50" height="10.28" fill="#fdeeef"/>
<rect x="190.60" y="273.36" width="15.50" height="10.28" fill="#f9c8da"/>
<rect x="205.10" y="264.08" width="15.50" height="10.28" fill="#fde5e7"/>
<rect x="205.10" y="273.36" width="15.50" height="10.28" fill="#f9d3dd"/>
<rect x="219.60" y="264.08" width="15.50" height="10.28" fill="#fef3f2"/>
<rect x="219.60" y="273.36" width="15.50" height="10.28" fill="#fef4f3"/>
<rect x="234.10" y="264.08" width="15.50" height="10.28" fill="#e4e5e7"/>
<rect x="234.10" y="273.36" width="15.50" height="10.28" fill="#e4e5e7"/>
<rect x="248.60" y="264.08" width="15.50" height="10.28" fill="#fef1f1"/>
<rect x="248.60" y="273.36" width="15.50" height="10.28" fill="#fbd6df"/>
<rect x="263.10" y="264.08" width="15.50" height="10.28" fill="#fef5f3"/>
<rect x="263.10" y="273.36" width="15.50" height="10.28" fill="#f6aebb"/>
<rect x="277.60" y="264.08" width="15.50" height="10.28" fill="#fad6de"/>
<rect x="277.60" y="273.36" width="15.50" height="10.28" fill="#e4e5e7"/>
<rect x="292.10" y="264.08" width="15.50" height="10.28" fill="#e4e5e7"/>
<rect x="292.10" y="273.36" width="15.50" height="10.28" fill="#e4e5e7"/>
<rect x="306.60" y="264.08" width="15.50" height="10.28" fill="#e4e5e7"/>
<rect x="306.60" y="273.36" width="15.50" height="10.28" fill="#ffffff"/>
<rect x="321.10" y="264.08" width="14.50" height="10.28" fill="#fde5e6"/>
<rect x="321.10" y="273.36" width="14.50" height="10.28" fill="#e4e5e7"/>
<rect x="89.10" y="282.64" width="15.50" height="10.28" fill="#fde8ea"/>
<rect x="89.10" y="291.92" width="15.50" height="10.28" fill="#e4e5e7"/>
<rect x="103.60" y="282.64" width="15.50" height="10.28" fill="#e4e5e7"/>
<rect x="103.60" y="291.92" width="15.50" height="10.28" fill="#e4e5e7"/>
<rect x="118.10" y="282.64" width="15.50" height="10.28" fill="#e4e5e7"/>
<rect x="118.10" y="291.92" width="15.50" height="10.28" fill="#e4e5e7"/>
<rect x="132.60" y="282.64" width="15.50" height="10.28" fill="#e4e5e7"/>
<rect x="132.60" y="291.92" width="15.50" height="10.28" fill="#e4e5e7"/>
<rect x="147.10" y="282.64" width="15.50" height="10.28" fill="#e4e5e7"/>
<rect x="147.10" y="291.92" width="15.50" height="10.28" fill="#e4e5e7"/>
<rect x="161.60" y="282.64" width="15.50" height="10.28" fill="#fffaf8"/>
<rect x="161.60" y="291.92" width="15.50" height="10.28" fill="#e4e5e7"/>
<rect x="176.10" y="282.64" width="15.50" height="10.28" fill="#e4e5e7"/>
<rect x="176.10" y="291.92" width="15.50" height="10.28" fill="#e4e5e7"/>
<rect x="190.60" y="282.64" width="15.50" height="10.28" fill="#e4e5e7"/>
<rect x="190.60" y="291.92" width="15.50" height="10.28" fill="#e4e5e7"/>
<rect x="205.10" y="282.64" width="15.50" height="10.28" fill="#fad4de"/>
<rect x="205.10" y="291.92" width="15.50" height="10.28" fill="#e4e5e7"/>
<rect x="219.60" y="282.64" width="15.50" height="10.28" fill="#e4e5e7"/>
<rect x="219.60" y="291.92" width="15.50" height="10.28" fill="#e4e5e7"/>
<rect x="234.10" y="282.64" width="15.50" height="10.28" fill="#e4e5e7"/>
<rect x="234.10" y="291.92" width="15.50" height="10.28" fill="#e4e5e7"/>
<rect x="248.60" y="282.64" width="15.50" height="10.28" fill="#fde0e4"/>
<rect x="248.60" y="291.92" width="15.50" height="10.28" fill="#e4e5e7"/>
<rect x="263.10" y="282.64" width="15.50" height="10.28" fill="#e4e5e7"/>
<rect x="263.10" y="291.92" width="15.50" height="10.28" fill="#e4e5e7"/>
<rect x="277.60" y="282.64" width="15.50" height="10.28" fill="#e4e5e7"/>
<rect x="277.60" y="291.92" width="15.50" height="10.28" fill="#e4e5e7"/>
<rect x="292.10" y="282.64" width="15.50" height="10.28" fill="#fde0e4"/>
<rect x="292.10" y="291.92" width="15.50" height="10.28" fill="#e4e5e7"/>
<rect x="306.60" y="282.64" width="15.50" height="10.28" fill="#e4e5e7"/>
<rect x="306.60" y="291.92" width="15.50" height="10.28" fill="#e4e5e7"/>
<rect x="321.10" y="282.64" width="14.50" height="10.28" fill="#fdeaeb"/>
<rect x="321.10" y="291.92" width="14.50" height="10.28" fill="#fef6f5"/>
<rect x="89.10" y="301.20" width="15.50" height="10.28" fill="#e4e5e7"/>
<rect x="89.10" y="310.48" width="15.50" height="10.28" fill="#e4e5e7"/>
<rect x="103.60" y="301.20" width="15.50" height="10.28" fill="#e4e5e7"/>
<rect x="103.60" y="310.48" width="15.50" height="10.28" fill="#e4e5e7"/>
<rect x="118.10" y="301.20" width="15.50" height="10.28" fill="#e4e5e7"/>
<rect x="118.10" y="310.48" width="15.50" height="10.28" fill="#e4e5e7"/>
<rect x="132.60" y="301.20" width="15.50" height="10.28" fill="#e4e5e7"/>
<rect x="132.60" y="310.48" width="15.50" height="10.28" fill="#e4e5e7"/>
<rect x="147.10" y="301.20" width="15.50" height="10.28" fill="#e4e5e7"/>
<rect x="147.10" y="310.48" width="15.50" height="10.28" fill="#e4e5e7"/>
<rect x="161.60" y="301.20" width="15.50" height="10.28" fill="#e4e5e7"/>
<rect x="161.60" y="310.48" width="15.50" height="10.28" fill="#e4e5e7"/>
<rect x="176.10" y="301.20" width="15.50" height="10.28" fill="#e4e5e7"/>
<rect x="176.10" y="310.48" width="15.50" height="10.28" fill="#e4e5e7"/>
<rect x="190.60" y="301.20" width="15.50" height="10.28" fill="#e4e5e7"/>
<rect x="190.60" y="310.48" width="15.50" height="10.28" fill="#e4e5e7"/>
<rect x="205.10" y="301.20" width="15.50" height="10.28" fill="#e4e5e7"/>
<rect x="205.10" y="310.48" width="15.50" height="10.28" fill="#e4e5e7"/>
<rect x="219.60" y="301.20" width="15.50" height="10.28" fill="#e4e5e7"/>
<rect x="219.60" y="310.48" width="15.50" height="10.28" fill="#e4e5e7"/>
<rect x="234.10" y="301.20" width="15.50" height="10.28" fill="#e4e5e7"/>
<rect x="234.10" y="310.48" width="15.50" height="10.28" fill="#e4e5e7"/>
<rect x="248.60" y="301.20" width="15.50" height="10.28" fill="#e4e5e7"/>
<rect x="248.60" y="310.48" width="15.50" height="10.28" fill="#e4e5e7"/>
<rect x="263.10" y="301.20" width="15.50" height="10.28" fill="#e4e5e7"/>
<rect x="263.10" y="310.48" width="15.50" height="10.28" fill="#e4e5e7"/>
<rect x="277.60" y="301.20" width="15.50" height="10.28" fill="#e4e5e7"/>
<rect x="277.60" y="310.48" width="15.50" height="10.28" fill="#e4e5e7"/>
<rect x="292.10" y="301.20" width="15.50" height="10.28" fill="#e4e5e7"/>
<rect x="292.10" y="310.48" width="15.50" height="10.28" fill="#e4e5e7"/>
<rect x="306.60" y="301.20" width="15.50" height="10.28" fill="#e4e5e7"/>
<rect x="306.60" y="310.48" width="15.50" height="10.28" fill="#e4e5e7"/>
<rect x="321.10" y="301.20" width="14.50" height="10.28" fill="#e4e5e7"/>
<rect x="321.10" y="310.48" width="14.50" height="10.28" fill="#e4e5e7"/>
<rect x="89.10" y="319.76" width="15.50" height="10.28" fill="#a1d5e5"/>
<rect x="89.10" y="329.04" width="15.50" height="9.28" fill="#6aacd9"/>
<rect x="103.60" y="319.76" width="15.50" height="10.28" fill="#fdeaea"/>
<rect x="103.60" y="329.04" width="15.50" height="9.28" fill="#f8fbfe"/>
<rect x="118.10" y="319.76" width="15.50" height="10.28" fill="#e4e5e7"/>
<rect x="118.10" y="329.04" width="15.50" height="9.28" fill="#dff3f5"/>
<rect x="132.60" y="319.76" width="15.50" height="10.28" fill="#e4e5e7"/>
<rect x="132.60" y="329.04" width="15.50" height="9.28" fill="#e4e5e7"/>
<rect x="147.10" y="319.76" width="15.50" height="10.28" fill="#e4e5e7"/>
<rect x="147.10" y="329.04" width="15.50" height="9.28" fill="#e4e5e7"/>
<rect x="161.60" y="319.76" width="15.50" height="10.28" fill="#ef8e97"/>
<rect x="161.60" y="329.04" width="15.50" height="9.28" fill="#fbd7e0"/>
<rect x="176.10" y="319.76" width="15.50" height="10.28" fill="#f9cbdc"/>
<rect x="176.10" y="329.04" width="15.50" height="9.28" fill="#fff9f8"/>
<rect x="190.60" y="319.76" width="15.50" height="10.28" fill="#f9c7d8"/>
<rect x="190.60" y="329.04" width="15.50" height="9.28" fill="#f9cfdc"/>
<rect x="205.10" y="319.76" width="15.50" height="10.28" fill="#f6a8b2"/>
<rect x="205.10" y="329.04" width="15.50" height="9.28" fill="#f6fafd"/>
<rect x="219.60" y="319.76" width="15.50" height="10.28" fill="#fde6e8"/>
<rect x="219.60" y="329.04" width="15.50" height="9.28" fill="#e4e5e7"/>
<rect x="234.10" y="319.76" width="15.50" height="10.28" fill="#fde5e7"/>
<rect x="234.10" y="329.04" width="15.50" height="9.28" fill="#fde6e8"/>
<rect x="248.60" y="319.76" width="15.50" height="10.28" fill="#f8c6da"/>
<rect x="248.60" y="329.04" width="15.50" height="9.28" fill="#fde2e5"/>
<rect x="263.10" y="319.76" width="15.50" height="10.28" fill="#e4e5e7"/>
<rect x="263.10" y="329.04" width="15.50" height="9.28" fill="#bfe9e6"/>
<rect x="277.60" y="319.76" width="15.50" height="10.28" fill="#fcdde2"/>
<rect x="277.60" y="329.04" width="15.50" height="9.28" fill="#fcdde2"/>
<rect x="292.10" y="319.76" width="15.50" height="10.28" fill="#e4e5e7"/>
<rect x="292.10" y="329.04" width="15.50" height="9.28" fill="#e4e5e7"/>
<rect x="306.60" y="319.76" width="15.50" height="10.28" fill="#e4e5e7"/>
<rect x="306.60" y="329.04" width="15.50" height="9.28" fill="#e4e5e7"/>
<rect x="321.10" y="319.76" width="14.50" height="10.28" fill="#b94370"/>
<rect x="321.10" y="329.04" width="14.50" height="9.28" fill="#ae3068"/>
<line x1="89.1" x2="335.6" y1="41.36" y2="41.36" stroke="#3a3a3a" stroke-width="1"/>
<line x1="89.1" x2="335.6" y1="59.92" y2="59.92" stroke="#3a3a3a" stroke-width="1"/>
<line x1="89.1" x2="335.6" y1="78.48" y2="78.48" stroke="#3a3a3a" stroke-width="1"/>
<line x1="89.1" x2="335.6" y1="97.04" y2="97.04" stroke="#3a3a3a" stroke-width="1"/>
<line x1="89.1" x2="335.6" y1="115.60" y2="115.60" stroke="#3a3a3a" stroke-width="1"/>
<line x1="89.1" x2="335.6" y1="134.16" y2="134.16" stroke="#3a3a3a" stroke-width="1"/>
<line x1="89.1" x2="335.6" y1="152.72" y2="152.72" stroke="#3a3a3a" stroke-width="1"/>
<line x1="89.1" x2="335.6" y1="171.28" y2="171.28" stroke="#3a3a3a" stroke-width="1"/>
<line x1="89.1" x2="335.6" y1="189.84" y2="189.84" stroke="#3a3a3a" stroke-width="1"/>
<line x1="89.1" x2="335.6" y1="208.40" y2="208.40" stroke="#3a3a3a" stroke-width="1"/>
<line x1="89.1" x2="335.6" y1="226.96" y2="226.96" stroke="#3a3a3a" stroke-width="1"/>
<line x1="89.1" x2="335.6" y1="245.52" y2="245.52" stroke="#3a3a3a" stroke-width="1"/>
<line x1="89.1" x2="335.6" y1="264.08" y2="264.08" stroke="#3a3a3a" stroke-width="1"/>
<line x1="89.1" x2="335.6" y1="282.64" y2="282.64" stroke="#3a3a3a" stroke-width="1"/>
<line x1="89.1" x2="335.6" y1="301.20" y2="301.20" stroke="#3a3a3a" stroke-width="1"/>
<line x1="89.1" x2="335.6" y1="319.76" y2="319.76" stroke="#3a3a3a" stroke-width="1"/>
<rect x="89.1" y="22.8" width="246.5" height="315.52" fill="none" stroke="#231f20" stroke-width="1.3"/>
<rect x="118.50" y="41.56" width="13.70" height="18.16" rx="2" fill="none" stroke="#111" stroke-width="1.5" stroke-dasharray="3.6 2"/>
<text x="134.60" y="49.46" font-size="9" fill="#222">iii</text>
<rect x="133.00" y="115.80" width="13.70" height="18.16" rx="2" fill="none" stroke="#111" stroke-width="1.5" stroke-dasharray="3.6 2"/>
<text x="149.10" y="123.70" font-size="9" fill="#222">ii</text>
<rect x="133.00" y="152.92" width="13.70" height="36.72" rx="2" fill="none" stroke="#111" stroke-width="1.5" stroke-dasharray="3.6 2"/>
<text x="149.10" y="160.82" font-size="9" fill="#777">i</text>
<rect x="176.50" y="227.16" width="13.70" height="18.16" rx="2" fill="none" stroke="#111" stroke-width="1.5" stroke-dasharray="3.6 2"/>
<text x="174.50" y="235.06" font-size="9" fill="#222" text-anchor="end">v</text>
<rect x="191.00" y="227.16" width="13.70" height="36.72" rx="2" fill="none" stroke="#111" stroke-width="1.5" stroke-dasharray="3.6 2"/>
<text x="207.10" y="235.06" font-size="9" fill="#222">iv</text>
<text x="86.1" y="36.60" font-size="8.2" text-anchor="end">Cancer cell</text>
<text x="86.1" y="55.09" font-size="8.2" text-anchor="end">B cell</text>
<text x="86.1" y="73.58" font-size="8.2" text-anchor="end">Neutrophil</text>
<text x="86.1" y="92.07" font-size="8.2" text-anchor="end">NK cell</text>
<text x="86.1" y="110.56" font-size="8.2" text-anchor="end">Dendritic cell</text>
<text x="86.1" y="129.05" font-size="8.2" text-anchor="end">Endothelial cell</text>
<text x="86.1" y="147.54" font-size="8.2" text-anchor="end">Mast cell</text>
<text x="86.1" y="166.03" font-size="8.2" text-anchor="end">Cytotoxic T cell</text>
<text x="86.1" y="184.52" font-size="8.2" text-anchor="end">Helper T cell</text>
<text x="86.1" y="203.01" font-size="8.2" text-anchor="end">Regulatory T cell</text>
<text x="86.1" y="221.50" font-size="8.2" text-anchor="end">Other T cell</text>
<text x="86.1" y="239.99" font-size="8.2" text-anchor="end">CD163<tspan font-size="5" dy="-2.6">−</tspan><tspan dy="2.6"> macrophage</tspan></text>
<text x="86.1" y="258.48" font-size="8.2" text-anchor="end">CD163<tspan font-size="5" dy="-2.6">+</tspan><tspan dy="2.6"> macrophage</tspan></text>
<text x="86.1" y="276.97" font-size="8.2" text-anchor="end">Classical monocyte</text>
<text x="86.1" y="295.46" font-size="8.2" text-anchor="end">Non-classical monocyte</text>
<text x="86.1" y="313.95" font-size="8.2" text-anchor="end">Intermediate monocyte</text>
<text x="86.1" y="332.44" font-size="8.2" text-anchor="end">Unclassified</text>
<text transform="translate(100.20,341) rotate(-90) scale(1,1)" font-size="8.2" text-anchor="end">Cancer cell</text>
<text transform="translate(114.70,341) rotate(-90) scale(1,1)" font-size="8.2" text-anchor="end">B cell</text>
<text transform="translate(129.20,341) rotate(-90) scale(1,1)" font-size="8.2" text-anchor="end">Neutrophil</text>
<text transform="translate(143.70,341) rotate(-90) scale(1,1)" font-size="8.2" text-anchor="end">NK cell</text>
<text transform="translate(158.20,341) rotate(-90) scale(1,1)" font-size="8.2" text-anchor="end">Dendritic cell</text>
<text transform="translate(172.70,341) rotate(-90) scale(1,1)" font-size="8.2" text-anchor="end">Endothelial cell</text>
<text transform="translate(187.20,341) rotate(-90) scale(1,1)" font-size="8.2" text-anchor="end">Mast cell</text>
<text transform="translate(201.70,341) rotate(-90) scale(1,1)" font-size="8.2" text-anchor="end">Cytotoxic T cell</text>
<text transform="translate(216.20,341) rotate(-90) scale(1,1)" font-size="8.2" text-anchor="end">Helper T cell</text>
<text transform="translate(230.70,341) rotate(-90) scale(1,1)" font-size="8.2" text-anchor="end">Regulatory T cell</text>
<text transform="translate(245.20,341) rotate(-90) scale(1,1)" font-size="8.2" text-anchor="end">Other T cell</text>
<text transform="translate(259.70,341) rotate(-90) scale(1,1)" font-size="8.2" text-anchor="end">CD163<tspan font-size="5" dy="-2.6">−</tspan><tspan dy="2.6"> macrophage</tspan></text>
<text transform="translate(274.20,341) rotate(-90) scale(1,1)" font-size="8.2" text-anchor="end">CD163<tspan font-size="5" dy="-2.6">+</tspan><tspan dy="2.6"> macrophage</tspan></text>
<text transform="translate(288.70,341) rotate(-90) scale(1,1)" font-size="8.2" text-anchor="end">Classical monocyte</text>
<text transform="translate(303.20,341) rotate(-90) scale(1,1)" font-size="8.2" text-anchor="end">Non-classical monocyte</text>
<text transform="translate(317.70,341) rotate(-90) scale(1,1)" font-size="8.2" text-anchor="end">Intermediate monocyte</text>
<text transform="translate(332.20,341) rotate(-90) scale(1,1)" font-size="8.2" text-anchor="end">Unclassified</text>
<rect x="437.70" y="22.80" width="15.50" height="10.28" fill="#ab2f67"/>
<rect x="437.70" y="32.08" width="15.50" height="10.28" fill="#ab2f67"/>
<rect x="452.20" y="22.80" width="15.50" height="10.28" fill="#93d0e6"/>
<rect x="452.20" y="32.08" width="15.50" height="10.28" fill="#9ad4dd"/>
<rect x="466.70" y="22.80" width="15.50" height="10.28" fill="#9fd7e2"/>
<rect x="466.70" y="32.08" width="15.50" height="10.28" fill="#fdeff0"/>
<rect x="481.20" y="22.80" width="15.50" height="10.28" fill="#a8dcdb"/>
<rect x="481.20" y="32.08" width="15.50" height="10.28" fill="#e4e5e7"/>
<rect x="495.70" y="22.80" width="15.50" height="10.28" fill="#e4e5e7"/>
<rect x="495.70" y="32.08" width="15.50" height="10.28" fill="#e4e5e7"/>
<rect x="510.20" y="22.80" width="15.50" height="10.28" fill="#7ebee0"/>
<rect x="510.20" y="32.08" width="15.50" height="10.28" fill="#6aaed9"/>
<rect x="524.70" y="22.80" width="15.50" height="10.28" fill="#84c2e2"/>
<rect x="524.70" y="32.08" width="15.50" height="10.28" fill="#97d3df"/>
<rect x="539.20" y="22.80" width="15.50" height="10.28" fill="#d5eeee"/>
<rect x="539.20" y="32.08" width="15.50" height="10.28" fill="#b8e3df"/>
<rect x="553.70" y="22.80" width="15.50" height="10.28" fill="#6fb2da"/>
<rect x="553.70" y="32.08" width="15.50" height="10.28" fill="#94cfe6"/>
<rect x="568.20" y="22.80" width="15.50" height="10.28" fill="#9ed6e2"/>
<rect x="568.20" y="32.08" width="15.50" height="10.28" fill="#9dd5d9"/>
<rect x="582.70" y="22.80" width="15.50" height="10.28" fill="#95d1e2"/>
<rect x="582.70" y="32.08" width="15.50" height="10.28" fill="#9dd5d9"/>
<rect x="597.20" y="22.80" width="15.50" height="10.28" fill="#7bbbdf"/>
<rect x="597.20" y="32.08" width="15.50" height="10.28" fill="#8ecbe2"/>
<rect x="611.70" y="22.80" width="15.50" height="10.28" fill="#7ebee0"/>
<rect x="611.70" y="32.08" width="15.50" height="10.28" fill="#8bcae2"/>
<rect x="626.20" y="22.80" width="15.50" height="10.28" fill="#88c5e4"/>
<rect x="626.20" y="32.08" width="15.50" height="10.28" fill="#a8dddb"/>
<rect x="640.70" y="22.80" width="15.50" height="10.28" fill="#92cee6"/>
<rect x="640.70" y="32.08" width="15.50" height="10.28" fill="#a8dddb"/>
<rect x="655.20" y="22.80" width="15.50" height="10.28" fill="#e4e5e7"/>
<rect x="655.20" y="32.08" width="15.50" height="10.28" fill="#92cde9"/>
<rect x="669.70" y="22.80" width="14.50" height="10.28" fill="#4f93c1"/>
<rect x="669.70" y="32.08" width="14.50" height="10.28" fill="#68acd8"/>
<rect x="437.70" y="41.36" width="15.50" height="10.28" fill="#fde2e5"/>
<rect x="437.70" y="50.64" width="15.50" height="10.28" fill="#fffaf9"/>
<rect x="452.20" y="41.36" width="15.50" height="10.28" fill="#f9cddc"/>
<rect x="452.20" y="50.64" width="15.50" height="10.28" fill="#fde1e5"/>
<rect x="466.70" y="41.36" width="15.50" height="10.28" fill="#e4e5e7"/>
<rect x="466.70" y="50.64" width="15.50" height="10.28" fill="#e4e5e7"/>
<rect x="481.20" y="41.36" width="15.50" height="10.28" fill="#e4e5e7"/>
<rect x="481.20" y="50.64" width="15.50" height="10.28" fill="#e4e5e7"/>
<rect x="495.70" y="41.36" width="15.50" height="10.28" fill="#e4e5e7"/>
<rect x="495.70" y="50.64" width="15.50" height="10.28" fill="#e4e5e7"/>
<rect x="510.20" y="41.36" width="15.50" height="10.28" fill="#fde2e5"/>
<rect x="510.20" y="50.64" width="15.50" height="10.28" fill="#fff6f5"/>
<rect x="524.70" y="41.36" width="15.50" height="10.28" fill="#e4e5e7"/>
<rect x="524.70" y="50.64" width="15.50" height="10.28" fill="#e4e5e7"/>
<rect x="539.20" y="41.36" width="15.50" height="10.28" fill="#fde2e5"/>
<rect x="539.20" y="50.64" width="15.50" height="10.28" fill="#f9d0dc"/>
<rect x="553.70" y="41.36" width="15.50" height="10.28" fill="#f9cddc"/>
<rect x="553.70" y="50.64" width="15.50" height="10.28" fill="#fde1e5"/>
<rect x="568.20" y="41.36" width="15.50" height="10.28" fill="#fdebed"/>
<rect x="568.20" y="50.64" width="15.50" height="10.28" fill="#fef4f3"/>
<rect x="582.70" y="41.36" width="15.50" height="10.28" fill="#fff6f5"/>
<rect x="582.70" y="50.64" width="15.50" height="10.28" fill="#fff7f6"/>
<rect x="597.20" y="41.36" width="15.50" height="10.28" fill="#fde6e8"/>
<rect x="597.20" y="50.64" width="15.50" height="10.28" fill="#fde2e5"/>
<rect x="611.70" y="41.36" width="15.50" height="10.28" fill="#e4e5e7"/>
<rect x="611.70" y="50.64" width="15.50" height="10.28" fill="#fde0e3"/>
<rect x="626.20" y="41.36" width="15.50" height="10.28" fill="#e4e5e7"/>
<rect x="626.20" y="50.64" width="15.50" height="10.28" fill="#e4e5e7"/>
<rect x="640.70" y="41.36" width="15.50" height="10.28" fill="#e4e5e7"/>
<rect x="640.70" y="50.64" width="15.50" height="10.28" fill="#e4e5e7"/>
<rect x="655.20" y="41.36" width="15.50" height="10.28" fill="#e4e5e7"/>
<rect x="655.20" y="50.64" width="15.50" height="10.28" fill="#e4e5e7"/>
<rect x="669.70" y="41.36" width="14.50" height="10.28" fill="#fdeaeb"/>
<rect x="669.70" y="50.64" width="14.50" height="10.28" fill="#e4e5e7"/>
<rect x="437.70" y="59.92" width="15.50" height="10.28" fill="#f9ccdb"/>
<rect x="437.70" y="69.20" width="15.50" height="10.28" fill="#f9ccdb"/>
<rect x="452.20" y="59.92" width="15.50" height="10.28" fill="#e4e5e7"/>
<rect x="452.20" y="69.20" width="15.50" height="10.28" fill="#e4e5e7"/>
<rect x="466.70" y="59.92" width="15.50" height="10.28" fill="#f5a2a5"/>
<rect x="466.70" y="69.20" width="15.50" height="10.28" fill="#f9c6d8"/>
<rect x="481.20" y="59.92" width="15.50" height="10.28" fill="#e4e5e7"/>
<rect x="481.20" y="69.20" width="15.50" height="10.28" fill="#e4e5e7"/>
<rect x="495.70" y="59.92" width="15.50" height="10.28" fill="#e4e5e7"/>
<rect x="495.70" y="69.20" width="15.50" height="10.28" fill="#e4e5e7"/>
<rect x="510.20" y="59.92" width="15.50" height="10.28" fill="#fbd7df"/>
<rect x="510.20" y="69.20" width="15.50" height="10.28" fill="#fde1e4"/>
<rect x="524.70" y="59.92" width="15.50" height="10.28" fill="#e4e5e7"/>
<rect x="524.70" y="69.20" width="15.50" height="10.28" fill="#e4e5e7"/>
<rect x="539.20" y="59.92" width="15.50" height="10.28" fill="#fde0e4"/>
<rect x="539.20" y="69.20" width="15.50" height="10.28" fill="#e4e5e7"/>
<rect x="553.70" y="59.92" width="15.50" height="10.28" fill="#fad3df"/>
<rect x="553.70" y="69.20" width="15.50" height="10.28" fill="#f9d0dc"/>
<rect x="568.20" y="59.92" width="15.50" height="10.28" fill="#e4e5e7"/>
<rect x="568.20" y="69.20" width="15.50" height="10.28" fill="#e4e5e7"/>
<rect x="582.70" y="59.92" width="15.50" height="10.28" fill="#e4e5e7"/>
<rect x="582.70" y="69.20" width="15.50" height="10.28" fill="#e4e5e7"/>
<rect x="597.20" y="59.92" width="15.50" height="10.28" fill="#f7b8c6"/>
<rect x="597.20" y="69.20" width="15.50" height="10.28" fill="#f9c8d8"/>
<rect x="611.70" y="59.92" width="15.50" height="10.28" fill="#e4e5e7"/>
<rect x="611.70" y="69.20" width="15.50" height="10.28" fill="#e4e5e7"/>
<rect x="626.20" y="59.92" width="15.50" height="10.28" fill="#e4e5e7"/>
<rect x="626.20" y="69.20" width="15.50" height="10.28" fill="#fef6f5"/>
<rect x="640.70" y="59.92" width="15.50" height="10.28" fill="#e4e5e7"/>
<rect x="640.70" y="69.20" width="15.50" height="10.28" fill="#fffbf9"/>
<rect x="655.20" y="59.92" width="15.50" height="10.28" fill="#e4e5e7"/>
<rect x="655.20" y="69.20" width="15.50" height="10.28" fill="#e4e5e7"/>
<rect x="669.70" y="59.92" width="14.50" height="10.28" fill="#f9cfdc"/>
<rect x="669.70" y="69.20" width="14.50" height="10.28" fill="#ffffff"/>
<rect x="437.70" y="78.48" width="15.50" height="10.28" fill="#e4e5e7"/>
<rect x="437.70" y="87.76" width="15.50" height="10.28" fill="#e4e5e7"/>
<rect x="452.20" y="78.48" width="15.50" height="10.28" fill="#e4e5e7"/>
<rect x="452.20" y="87.76" width="15.50" height="10.28" fill="#e4e5e7"/>
<rect x="466.70" y="78.48" width="15.50" height="10.28" fill="#e4e5e7"/>
<rect x="466.70" y="87.76" width="15.50" height="10.28" fill="#e4e5e7"/>
<rect x="481.20" y="78.48" width="15.50" height="10.28" fill="#e4e5e7"/>
<rect x="481.20" y="87.76" width="15.50" height="10.28" fill="#e4e5e7"/>
<rect x="495.70" y="78.48" width="15.50" height="10.28" fill="#e4e5e7"/>
<rect x="495.70" y="87.76" width="15.50" height="10.28" fill="#e4e5e7"/>
<rect x="510.20" y="78.48" width="15.50" height="10.28" fill="#e4e5e7"/>
<rect x="510.20" y="87.76" width="15.50" height="10.28" fill="#e4e5e7"/>
<rect x="524.70" y="78.48" width="15.50" height="10.28" fill="#e4e5e7"/>
<rect x="524.70" y="87.76" width="15.50" height="10.28" fill="#e4e5e7"/>
<rect x="539.20" y="78.48" width="15.50" height="10.28" fill="#e4e5e7"/>
<rect x="539.20" y="87.76" width="15.50" height="10.28" fill="#e4e5e7"/>
<rect x="553.70" y="78.48" width="15.50" height="10.28" fill="#e4e5e7"/>
<rect x="553.70" y="87.76" width="15.50" height="10.28" fill="#e4e5e7"/>
<rect x="568.20" y="78.48" width="15.50" height="10.28" fill="#e4e5e7"/>
<rect x="568.20" y="87.76" width="15.50" height="10.28" fill="#e4e5e7"/>
<rect x="582.70" y="78.48" width="15.50" height="10.28" fill="#e4e5e7"/>
<rect x="582.70" y="87.76" width="15.50" height="10.28" fill="#e4e5e7"/>
<rect x="597.20" y="78.48" width="15.50" height="10.28" fill="#e4e5e7"/>
<rect x="597.20" y="87.76" width="15.50" height="10.28" fill="#e4e5e7"/>
<rect x="611.70" y="78.48" width="15.50" height="10.28" fill="#e4e5e7"/>
<rect x="611.70" y="87.76" width="15.50" height="10.28" fill="#e4e5e7"/>
<rect x="626.20" y="78.48" width="15.50" height="10.28" fill="#e4e5e7"/>
<rect x="626.20" y="87.76" width="15.50" height="10.28" fill="#e4e5e7"/>
<rect x="640.70" y="78.48" width="15.50" height="10.28" fill="#e4e5e7"/>
<rect x="640.70" y="87.76" width="15.50" height="10.28" fill="#e4e5e7"/>
<rect x="655.20" y="78.48" width="15.50" height="10.28" fill="#e4e5e7"/>
<rect x="655.20" y="87.76" width="15.50" height="10.28" fill="#e4e5e7"/>
<rect x="669.70" y="78.48" width="14.50" height="10.28" fill="#e4e5e7"/>
<rect x="669.70" y="87.76" width="14.50" height="10.28" fill="#e4e5e7"/>
<rect x="437.70" y="97.04" width="15.50" height="10.28" fill="#e4e5e7"/>
<rect x="437.70" y="106.32" width="15.50" height="10.28" fill="#e4e5e7"/>
<rect x="452.20" y="97.04" width="15.50" height="10.28" fill="#e4e5e7"/>
<rect x="452.20" y="106.32" width="15.50" height="10.28" fill="#e4e5e7"/>
<rect x="466.70" y="97.04" width="15.50" height="10.28" fill="#e4e5e7"/>
<rect x="466.70" y="106.32" width="15.50" height="10.28" fill="#e4e5e7"/>
<rect x="481.20" y="97.04" width="15.50" height="10.28" fill="#e4e5e7"/>
<rect x="481.20" y="106.32" width="15.50" height="10.28" fill="#e4e5e7"/>
<rect x="495.70" y="97.04" width="15.50" height="10.28" fill="#e4e5e7"/>
<rect x="495.70" y="106.32" width="15.50" height="10.28" fill="#e4e5e7"/>
<rect x="510.20" y="97.04" width="15.50" height="10.28" fill="#e4e5e7"/>
<rect x="510.20" y="106.32" width="15.50" height="10.28" fill="#e4e5e7"/>
<rect x="524.70" y="97.04" width="15.50" height="10.28" fill="#e4e5e7"/>
<rect x="524.70" y="106.32" width="15.50" height="10.28" fill="#e4e5e7"/>
<rect x="539.20" y="97.04" width="15.50" height="10.28" fill="#e4e5e7"/>
<rect x="539.20" y="106.32" width="15.50" height="10.28" fill="#e4e5e7"/>
<rect x="553.70" y="97.04" width="15.50" height="10.28" fill="#e4e5e7"/>
<rect x="553.70" y="106.32" width="15.50" height="10.28" fill="#e4e5e7"/>
<rect x="568.20" y="97.04" width="15.50" height="10.28" fill="#e4e5e7"/>
<rect x="568.20" y="106.32" width="15.50" height="10.28" fill="#e4e5e7"/>
<rect x="582.70" y="97.04" width="15.50" height="10.28" fill="#e4e5e7"/>
<rect x="582.70" y="106.32" width="15.50" height="10.28" fill="#e4e5e7"/>
<rect x="597.20" y="97.04" width="15.50" height="10.28" fill="#e4e5e7"/>
<rect x="597.20" y="106.32" width="15.50" height="10.28" fill="#e4e5e7"/>
<rect x="611.70" y="97.04" width="15.50" height="10.28" fill="#e4e5e7"/>
<rect x="611.70" y="106.32" width="15.50" height="10.28" fill="#e4e5e7"/>
<rect x="626.20" y="97.04" width="15.50" height="10.28" fill="#e4e5e7"/>
<rect x="626.20" y="106.32" width="15.50" height="10.28" fill="#e4e5e7"/>
<rect x="640.70" y="97.04" width="15.50" height="10.28" fill="#e4e5e7"/>
<rect x="640.70" y="106.32" width="15.50" height="10.28" fill="#e4e5e7"/>
<rect x="655.20" y="97.04" width="15.50" height="10.28" fill="#e4e5e7"/>
<rect x="655.20" y="106.32" width="15.50" height="10.28" fill="#e4e5e7"/>
<rect x="669.70" y="97.04" width="14.50" height="10.28" fill="#e4e5e7"/>
<rect x="669.70" y="106.32" width="14.50" height="10.28" fill="#e4e5e7"/>
<rect x="437.70" y="115.60" width="15.50" height="10.28" fill="#f6aab5"/>
<rect x="437.70" y="124.88" width="15.50" height="10.28" fill="#f6a9af"/>
<rect x="452.20" y="115.60" width="15.50" height="10.28" fill="#f9c8da"/>
<rect x="452.20" y="124.88" width="15.50" height="10.28" fill="#fef5f3"/>
<rect x="466.70" y="115.60" width="15.50" height="10.28" fill="#f7b4c2"/>
<rect x="466.70" y="124.88" width="15.50" height="10.28" fill="#f7b4c4"/>
<rect x="481.20" y="115.60" width="15.50" height="10.28" fill="#fdeced"/>
<rect x="481.20" y="124.88" width="15.50" height="10.28" fill="#fffafa"/>
<rect x="495.70" y="115.60" width="15.50" height="10.28" fill="#e4e5e7"/>
<rect x="495.70" y="124.88" width="15.50" height="10.28" fill="#e4e5e7"/>
<rect x="510.20" y="115.60" width="15.50" height="10.28" fill="#b03a6c"/>
<rect x="510.20" y="124.88" width="15.50" height="10.28" fill="#ab2f67"/>
<rect x="524.70" y="115.60" width="15.50" height="10.28" fill="#fcdde1"/>
<rect x="524.70" y="124.88" width="15.50" height="10.28" fill="#fad2de"/>
<rect x="539.20" y="115.60" width="15.50" height="10.28" fill="#cc5e80"/>
<rect x="539.20" y="124.88" width="15.50" height="10.28" fill="#e27f8d"/>
<rect x="553.70" y="115.60" width="15.50" height="10.28" fill="#bd4675"/>
<rect x="553.70" y="124.88" width="15.50" height="10.28" fill="#c9557c"/>
<rect x="568.20" y="115.60" width="15.50" height="10.28" fill="#f7b4c2"/>
<rect x="568.20" y="124.88" width="15.50" height="10.28" fill="#f6aab5"/>
<rect x="582.70" y="115.60" width="15.50" height="10.28" fill="#f6a9b5"/>
<rect x="582.70" y="124.88" width="15.50" height="10.28" fill="#f9c8da"/>
<rect x="597.20" y="115.60" width="15.50" height="10.28" fill="#c65279"/>
<rect x="597.20" y="124.88" width="15.50" height="10.28" fill="#d16784"/>
<rect x="611.70" y="115.60" width="15.50" height="10.28" fill="#f8bdd0"/>
<rect x="611.70" y="124.88" width="15.50" height="10.28" fill="#f8bbd0"/>
<rect x="626.20" y="115.60" width="15.50" height="10.28" fill="#f8bccf"/>
<rect x="626.20" y="124.88" width="15.50" height="10.28" fill="#c9587c"/>
<rect x="640.70" y="115.60" width="15.50" height="10.28" fill="#f6b0bf"/>
<rect x="640.70" y="124.88" width="15.50" height="10.28" fill="#f5a7ae"/>
<rect x="655.20" y="115.60" width="15.50" height="10.28" fill="#eef0ef"/>
<rect x="655.20" y="124.88" width="15.50" height="10.28" fill="#f9c0d3"/>
<rect x="669.70" y="115.60" width="14.50" height="10.28" fill="#c9587c"/>
<rect x="669.70" y="124.88" width="14.50" height="10.28" fill="#ad3068"/>
<rect x="437.70" y="134.16" width="15.50" height="10.28" fill="#fff5f3"/>
<rect x="437.70" y="143.44" width="15.50" height="10.28" fill="#e4e5e7"/>
<rect x="452.20" y="134.16" width="15.50" height="10.28" fill="#e4e5e7"/>
<rect x="452.20" y="143.44" width="15.50" height="10.28" fill="#e4e5e7"/>
<rect x="466.70" y="134.16" width="15.50" height="10.28" fill="#e4e5e7"/>
<rect x="466.70" y="143.44" width="15.50" height="10.28" fill="#e4e5e7"/>
<rect x="481.20" y="134.16" width="15.50" height="10.28" fill="#e4e5e7"/>
<rect x="481.20" y="143.44" width="15.50" height="10.28" fill="#e4e5e7"/>
<rect x="495.70" y="134.16" width="15.50" height="10.28" fill="#e4e5e7"/>
<rect x="495.70" y="143.44" width="15.50" height="10.28" fill="#e4e5e7"/>
<rect x="510.20" y="134.16" width="15.50" height="10.28" fill="#fdeeee"/>
<rect x="510.20" y="143.44" width="15.50" height="10.28" fill="#fde0e4"/>
<rect x="524.70" y="134.16" width="15.50" height="10.28" fill="#f9d0dd"/>
<rect x="524.70" y="143.44" width="15.50" height="10.28" fill="#f9d0dd"/>
<rect x="539.20" y="134.16" width="15.50" height="10.28" fill="#fff5f4"/>
<rect x="539.20" y="143.44" width="15.50" height="10.28" fill="#e4e5e7"/>
<rect x="553.70" y="134.16" width="15.50" height="10.28" fill="#fdeef0"/>
<rect x="553.70" y="143.44" width="15.50" height="10.28" fill="#fef1f0"/>
<rect x="568.20" y="134.16" width="15.50" height="10.28" fill="#e4e5e7"/>
<rect x="568.20" y="143.44" width="15.50" height="10.28" fill="#e4e5e7"/>
<rect x="582.70" y="134.16" width="15.50" height="10.28" fill="#e4e5e7"/>
<rect x="582.70" y="143.44" width="15.50" height="10.28" fill="#e4e5e7"/>
<rect x="597.20" y="134.16" width="15.50" height="10.28" fill="#fde0e4"/>
<rect x="597.20" y="143.44" width="15.50" height="10.28" fill="#ffffff"/>
<rect x="611.70" y="134.16" width="15.50" height="10.28" fill="#e4e5e7"/>
<rect x="611.70" y="143.44" width="15.50" height="10.28" fill="#e4e5e7"/>
<rect x="626.20" y="134.16" width="15.50" height="10.28" fill="#e4e5e7"/>
<rect x="626.20" y="143.44" width="15.50" height="10.28" fill="#e4e5e7"/>
<rect x="640.70" y="134.16" width="15.50" height="10.28" fill="#e4e5e7"/>
<rect x="640.70" y="143.44" width="15.50" height="10.28" fill="#e4e5e7"/>
<rect x="655.20" y="134.16" width="15.50" height="10.28" fill="#e4e5e7"/>
<rect x="655.20" y="143.44" width="15.50" height="10.28" fill="#e4e5e7"/>
<rect x="669.70" y="134.16" width="14.50" height="10.28" fill="#fffaf8"/>
<rect x="669.70" y="143.44" width="14.50" height="10.28" fill="#e4e5e7"/>
<rect x="437.70" y="152.72" width="15.50" height="10.28" fill="#fad3df"/>
<rect x="437.70" y="162.00" width="15.50" height="10.28" fill="#f9cbdd"/>
<rect x="452.20" y="152.72" width="15.50" height="10.28" fill="#f9cdde"/>
<rect x="452.20" y="162.00" width="15.50" height="10.28" fill="#f8c9dc"/>
<rect x="466.70" y="152.72" width="15.50" height="10.28" fill="#fde0e4"/>
<rect x="466.70" y="162.00" width="15.50" height="10.28" fill="#fde0e4"/>
<rect x="481.20" y="152.72" width="15.50" height="10.28" fill="#e4e5e7"/>
<rect x="481.20" y="162.00" width="15.50" height="10.28" fill="#e4e5e7"/>
<rect x="495.70" y="152.72" width="15.50" height="10.28" fill="#e4e5e7"/>
<rect x="495.70" y="162.00" width="15.50" height="10.28" fill="#e4e5e7"/>
<rect x="510.20" y="152.72" width="15.50" height="10.28" fill="#f19199"/>
<rect x="510.20" y="162.00" width="15.50" height="10.28" fill="#c45079"/>
<rect x="524.70" y="152.72" width="15.50" height="10.28" fill="#ffffff"/>
<rect x="524.70" y="162.00" width="15.50" height="10.28" fill="#fff3f2"/>
<rect x="539.20" y="152.72" width="15.50" height="10.28" fill="#d56a87"/>
<rect x="539.20" y="162.00" width="15.50" height="10.28" fill="#b83e6f"/>
<rect x="553.70" y="152.72" width="15.50" height="10.28" fill="#d06583"/>
<rect x="553.70" y="162.00" width="15.50" height="10.28" fill="#ad3068"/>
<rect x="568.20" y="152.72" width="15.50" height="10.28" fill="#f7b4c2"/>
<rect x="568.20" y="162.00" width="15.50" height="10.28" fill="#e27f8f"/>
<rect x="582.70" y="152.72" width="15.50" height="10.28" fill="#f6a9b0"/>
<rect x="582.70" y="162.00" width="15.50" height="10.28" fill="#f6a9b3"/>
<rect x="597.20" y="152.72" width="15.50" height="10.28" fill="#c95a7e"/>
<rect x="597.20" y="162.00" width="15.50" height="10.28" fill="#d5668a"/>
<rect x="611.70" y="152.72" width="15.50" height="10.28" fill="#f8bcd0"/>
<rect x="611.70" y="162.00" width="15.50" height="10.28" fill="#f8bcd0"/>
<rect x="626.20" y="152.72" width="15.50" height="10.28" fill="#fbd3de"/>
<rect x="626.20" y="162.00" width="15.50" height="10.28" fill="#f9c8db"/>
<rect x="640.70" y="152.72" width="15.50" height="10.28" fill="#fde8ea"/>
<rect x="640.70" y="162.00" width="15.50" height="10.28" fill="#f7b4c2"/>
<rect x="655.20" y="152.72" width="15.50" height="10.28" fill="#e4e5e7"/>
<rect x="655.20" y="162.00" width="15.50" height="10.28" fill="#e4e5e7"/>
<rect x="669.70" y="152.72" width="14.50" height="10.28" fill="#f5a1a6"/>
<rect x="669.70" y="162.00" width="14.50" height="10.28" fill="#fde0e4"/>
<rect x="437.70" y="171.28" width="15.50" height="10.28" fill="#fff6f5"/>
<rect x="437.70" y="180.56" width="15.50" height="10.28" fill="#fcdae0"/>
<rect x="452.20" y="171.28" width="15.50" height="10.28" fill="#f6aab0"/>
<rect x="452.20" y="180.56" width="15.50" height="10.28" fill="#f6abb5"/>
<rect x="466.70" y="171.28" width="15.50" height="10.28" fill="#f9c6d9"/>
<rect x="466.70" y="180.56" width="15.50" height="10.28" fill="#f7bccd"/>
<rect x="481.20" y="171.28" width="15.50" height="10.28" fill="#e4e5e7"/>
<rect x="481.20" y="180.56" width="15.50" height="10.28" fill="#fdeeee"/>
<rect x="495.70" y="171.28" width="15.50" height="10.28" fill="#e4e5e7"/>
<rect x="495.70" y="180.56" width="15.50" height="10.28" fill="#e4e5e7"/>
<rect x="510.20" y="171.28" width="15.50" height="10.28" fill="#c95a7e"/>
<rect x="510.20" y="180.56" width="15.50" height="10.28" fill="#d46985"/>
<rect x="524.70" y="171.28" width="15.50" height="10.28" fill="#fbd6df"/>
<rect x="524.70" y="180.56" width="15.50" height="10.28" fill="#f9cbdb"/>
<rect x="539.20" y="171.28" width="15.50" height="10.28" fill="#b93f70"/>
<rect x="539.20" y="180.56" width="15.50" height="10.28" fill="#a92c65"/>
<rect x="553.70" y="171.28" width="15.50" height="10.28" fill="#cd6282"/>
<rect x="553.70" y="180.56" width="15.50" height="10.28" fill="#ae3068"/>
<rect x="568.20" y="171.28" width="15.50" height="10.28" fill="#e0788a"/>
<rect x="568.20" y="180.56" width="15.50" height="10.28" fill="#bb4673"/>
<rect x="582.70" y="171.28" width="15.50" height="10.28" fill="#f5a3a3"/>
<rect x="582.70" y="180.56" width="15.50" height="10.28" fill="#bf4a76"/>
<rect x="597.20" y="171.28" width="15.50" height="10.28" fill="#b03a6c"/>
<rect x="597.20" y="180.56" width="15.50" height="10.28" fill="#ad3068"/>
<rect x="611.70" y="171.28" width="15.50" height="10.28" fill="#f8cde0"/>
<rect x="611.70" y="180.56" width="15.50" height="10.28" fill="#f6a7ac"/>
<rect x="626.20" y="171.28" width="15.50" height="10.28" fill="#f8c6d8"/>
<rect x="626.20" y="180.56" width="15.50" height="10.28" fill="#f5a0a4"/>
<rect x="640.70" y="171.28" width="15.50" height="10.28" fill="#f9cbdc"/>
<rect x="640.70" y="180.56" width="15.50" height="10.28" fill="#f9c6d9"/>
<rect x="655.20" y="171.28" width="15.50" height="10.28" fill="#e4e5e7"/>
<rect x="655.20" y="180.56" width="15.50" height="10.28" fill="#fde0e4"/>
<rect x="669.70" y="171.28" width="14.50" height="10.28" fill="#f8c3d6"/>
<rect x="669.70" y="180.56" width="14.50" height="10.28" fill="#dd7a8c"/>
<rect x="437.70" y="189.84" width="15.50" height="10.28" fill="#e4e5e7"/>
<rect x="437.70" y="199.12" width="15.50" height="10.28" fill="#e4e5e7"/>
<rect x="452.20" y="189.84" width="15.50" height="10.28" fill="#e4e5e7"/>
<rect x="452.20" y="199.12" width="15.50" height="10.28" fill="#e4e5e7"/>
<rect x="466.70" y="189.84" width="15.50" height="10.28" fill="#e4e5e7"/>
<rect x="466.70" y="199.12" width="15.50" height="10.28" fill="#e4e5e7"/>
<rect x="481.20" y="189.84" width="15.50" height="10.28" fill="#e4e5e7"/>
<rect x="481.20" y="199.12" width="15.50" height="10.28" fill="#e4e5e7"/>
<rect x="495.70" y="189.84" width="15.50" height="10.28" fill="#e4e5e7"/>
<rect x="495.70" y="199.12" width="15.50" height="10.28" fill="#e4e5e7"/>
<rect x="510.20" y="189.84" width="15.50" height="10.28" fill="#ffffff"/>
<rect x="510.20" y="199.12" width="15.50" height="10.28" fill="#fef3f2"/>
<rect x="524.70" y="189.84" width="15.50" height="10.28" fill="#e4e5e7"/>
<rect x="524.70" y="199.12" width="15.50" height="10.28" fill="#e4e5e7"/>
<rect x="539.20" y="189.84" width="15.50" height="10.28" fill="#fde8ea"/>
<rect x="539.20" y="199.12" width="15.50" height="10.28" fill="#fef3f2"/>
<rect x="553.70" y="189.84" width="15.50" height="10.28" fill="#fbd8df"/>
<rect x="553.70" y="199.12" width="15.50" height="10.28" fill="#f8c4d8"/>
<rect x="568.20" y="189.84" width="15.50" height="10.28" fill="#e4e5e7"/>
<rect x="568.20" y="199.12" width="15.50" height="10.28" fill="#e4e5e7"/>
<rect x="582.70" y="189.84" width="15.50" height="10.28" fill="#e4e5e7"/>
<rect x="582.70" y="199.12" width="15.50" height="10.28" fill="#e4e5e7"/>
<rect x="597.20" y="189.84" width="15.50" height="10.28" fill="#fde0e4"/>
<rect x="597.20" y="199.12" width="15.50" height="10.28" fill="#fde8ea"/>
<rect x="611.70" y="189.84" width="15.50" height="10.28" fill="#e4e5e7"/>
<rect x="611.70" y="199.12" width="15.50" height="10.28" fill="#e4e5e7"/>
<rect x="626.20" y="189.84" width="15.50" height="10.28" fill="#e4e5e7"/>
<rect x="626.20" y="199.12" width="15.50" height="10.28" fill="#fffbf8"/>
<rect x="640.70" y="189.84" width="15.50" height="10.28" fill="#e4e5e7"/>
<rect x="640.70" y="199.12" width="15.50" height="10.28" fill="#e4e5e7"/>
<rect x="655.20" y="189.84" width="15.50" height="10.28" fill="#e4e5e7"/>
<rect x="655.20" y="199.12" width="15.50" height="10.28" fill="#e4e5e7"/>
<rect x="669.70" y="189.84" width="14.50" height="10.28" fill="#e4e5e7"/>
<rect x="669.70" y="199.12" width="14.50" height="10.28" fill="#e4e5e7"/>
<rect x="437.70" y="208.40" width="15.50" height="10.28" fill="#e4e5e7"/>
<rect x="437.70" y="217.68" width="15.50" height="10.28" fill="#fef1f0"/>
<rect x="452.20" y="208.40" width="15.50" height="10.28" fill="#e4e5e7"/>
<rect x="452.20" y="217.68" width="15.50" height="10.28" fill="#e4e5e7"/>
<rect x="466.70" y="208.40" width="15.50" height="10.28" fill="#e4e5e7"/>
<rect x="466.70" y="217.68" width="15.50" height="10.28" fill="#e4e5e7"/>
<rect x="481.20" y="208.40" width="15.50" height="10.28" fill="#e4e5e7"/>
<rect x="481.20" y="217.68" width="15.50" height="10.28" fill="#e4e5e7"/>
<rect x="495.70" y="208.40" width="15.50" height="10.28" fill="#e4e5e7"/>
<rect x="495.70" y="217.68" width="15.50" height="10.28" fill="#e4e5e7"/>
<rect x="510.20" y="208.40" width="15.50" height="10.28" fill="#fff9f8"/>
<rect x="510.20" y="217.68" width="15.50" height="10.28" fill="#e4e5e7"/>
<rect x="524.70" y="208.40" width="15.50" height="10.28" fill="#e4e5e7"/>
<rect x="524.70" y="217.68" width="15.50" height="10.28" fill="#e4e5e7"/>
<rect x="539.20" y="208.40" width="15.50" height="10.28" fill="#fbdadf"/>
<rect x="539.20" y="217.68" width="15.50" height="10.28" fill="#fad2de"/>
<rect x="553.70" y="208.40" width="15.50" height="10.28" fill="#fbdadf"/>
<rect x="553.70" y="217.68" width="15.50" height="10.28" fill="#fad2de"/>
<rect x="568.20" y="208.40" width="15.50" height="10.28" fill="#e4e5e7"/>
<rect x="568.20" y="217.68" width="15.50" height="10.28" fill="#e4e5e7"/>
<rect x="582.70" y="208.40" width="15.50" height="10.28" fill="#fde6e8"/>
<rect x="582.70" y="217.68" width="15.50" height="10.28" fill="#e4e5e7"/>
<rect x="597.20" y="208.40" width="15.50" height="10.28" fill="#fbdadf"/>
<rect x="597.20" y="217.68" width="15.50" height="10.28" fill="#e4e5e7"/>
<rect x="611.70" y="208.40" width="15.50" height="10.28" fill="#e4e5e7"/>
<rect x="611.70" y="217.68" width="15.50" height="10.28" fill="#e4e5e7"/>
<rect x="626.20" y="208.40" width="15.50" height="10.28" fill="#e4e5e7"/>
<rect x="626.20" y="217.68" width="15.50" height="10.28" fill="#ffffff"/>
<rect x="640.70" y="208.40" width="15.50" height="10.28" fill="#e4e5e7"/>
<rect x="640.70" y="217.68" width="15.50" height="10.28" fill="#e4e5e7"/>
<rect x="655.20" y="208.40" width="15.50" height="10.28" fill="#e4e5e7"/>
<rect x="655.20" y="217.68" width="15.50" height="10.28" fill="#e4e5e7"/>
<rect x="669.70" y="208.40" width="14.50" height="10.28" fill="#fdeaeb"/>
<rect x="669.70" y="217.68" width="14.50" height="10.28" fill="#e4e5e7"/>
<rect x="437.70" y="226.96" width="15.50" height="10.28" fill="#aadfe2"/>
<rect x="437.70" y="236.24" width="15.50" height="10.28" fill="#f5fafd"/>
<rect x="452.20" y="226.96" width="15.50" height="10.28" fill="#fde0e4"/>
<rect x="452.20" y="236.24" width="15.50" height="10.28" fill="#fde6e8"/>
<rect x="466.70" y="226.96" width="15.50" height="10.28" fill="#f9c6d9"/>
<rect x="466.70" y="236.24" width="15.50" height="10.28" fill="#f9c6d9"/>
<rect x="481.20" y="226.96" width="15.50" height="10.28" fill="#e4e5e7"/>
<rect x="481.20" y="236.24" width="15.50" height="10.28" fill="#e4e5e7"/>
<rect x="495.70" y="226.96" width="15.50" height="10.28" fill="#e4e5e7"/>
<rect x="495.70" y="236.24" width="15.50" height="10.28" fill="#e4e5e7"/>
<rect x="510.20" y="226.96" width="15.50" height="10.28" fill="#f6a7af"/>
<rect x="510.20" y="236.24" width="15.50" height="10.28" fill="#f6a9b0"/>
<rect x="524.70" y="226.96" width="15.50" height="10.28" fill="#fbd7df"/>
<rect x="524.70" y="236.24" width="15.50" height="10.28" fill="#e4e5e7"/>
<rect x="539.20" y="226.96" width="15.50" height="10.28" fill="#f5a0a3"/>
<rect x="539.20" y="236.24" width="15.50" height="10.28" fill="#c95a7e"/>
<rect x="553.70" y="226.96" width="15.50" height="10.28" fill="#f5a2a6"/>
<rect x="553.70" y="236.24" width="15.50" height="10.28" fill="#d4708a"/>
<rect x="568.20" y="226.96" width="15.50" height="10.28" fill="#f8c0d3"/>
<rect x="568.20" y="236.24" width="15.50" height="10.28" fill="#f8c2d5"/>
<rect x="582.70" y="226.96" width="15.50" height="10.28" fill="#fcdde2"/>
<rect x="582.70" y="236.24" width="15.50" height="10.28" fill="#fde1e4"/>
<rect x="597.20" y="226.96" width="15.50" height="10.28" fill="#b03a6c"/>
<rect x="597.20" y="236.24" width="15.50" height="10.28" fill="#ad3068"/>
<rect x="611.70" y="226.96" width="15.50" height="10.28" fill="#ef9199"/>
<rect x="611.70" y="236.24" width="15.50" height="10.28" fill="#f29aa0"/>
<rect x="626.20" y="226.96" width="15.50" height="10.28" fill="#f9cedd"/>
<rect x="626.20" y="236.24" width="15.50" height="10.28" fill="#f9cedd"/>
<rect x="640.70" y="226.96" width="15.50" height="10.28" fill="#f9cbdc"/>
<rect x="640.70" y="236.24" width="15.50" height="10.28" fill="#f8c4d8"/>
<rect x="655.20" y="226.96" width="15.50" height="10.28" fill="#e4e5e7"/>
<rect x="655.20" y="236.24" width="15.50" height="10.28" fill="#fff5f3"/>
<rect x="669.70" y="226.96" width="14.50" height="10.28" fill="#f9c8da"/>
<rect x="669.70" y="236.24" width="14.50" height="10.28" fill="#f9c8da"/>
<rect x="437.70" y="245.52" width="15.50" height="10.28" fill="#fcdde1"/>
<rect x="437.70" y="254.80" width="15.50" height="10.28" fill="#f9d0dc"/>
<rect x="452.20" y="245.52" width="15.50" height="10.28" fill="#ffffff"/>
<rect x="452.20" y="254.80" width="15.50" height="10.28" fill="#fde9eb"/>
<rect x="466.70" y="245.52" width="15.50" height="10.28" fill="#e4e5e7"/>
<rect x="466.70" y="254.80" width="15.50" height="10.28" fill="#e4e5e7"/>
<rect x="481.20" y="245.52" width="15.50" height="10.28" fill="#e4e5e7"/>
<rect x="481.20" y="254.80" width="15.50" height="10.28" fill="#e4e5e7"/>
<rect x="495.70" y="245.52" width="15.50" height="10.28" fill="#e4e5e7"/>
<rect x="495.70" y="254.80" width="15.50" height="10.28" fill="#e4e5e7"/>
<rect x="510.20" y="245.52" width="15.50" height="10.28" fill="#fdeeee"/>
<rect x="510.20" y="254.80" width="15.50" height="10.28" fill="#e4e5e7"/>
<rect x="524.70" y="245.52" width="15.50" height="10.28" fill="#e4e5e7"/>
<rect x="524.70" y="254.80" width="15.50" height="10.28" fill="#e4e5e7"/>
<rect x="539.20" y="245.52" width="15.50" height="10.28" fill="#fbd6df"/>
<rect x="539.20" y="254.80" width="15.50" height="10.28" fill="#f9cedc"/>
<rect x="553.70" y="245.52" width="15.50" height="10.28" fill="#f8c5d8"/>
<rect x="553.70" y="254.80" width="15.50" height="10.28" fill="#f9cfdc"/>
<rect x="568.20" y="245.52" width="15.50" height="10.28" fill="#e4e5e7"/>
<rect x="568.20" y="254.80" width="15.50" height="10.28" fill="#fef4f3"/>
<rect x="582.70" y="245.52" width="15.50" height="10.28" fill="#e4e5e7"/>
<rect x="582.70" y="254.80" width="15.50" height="10.28" fill="#fef4f3"/>
<rect x="597.20" y="245.52" width="15.50" height="10.28" fill="#f5a4a5"/>
<rect x="597.20" y="254.80" width="15.50" height="10.28" fill="#f5a1a4"/>
<rect x="611.70" y="245.52" width="15.50" height="10.28" fill="#f5a4a5"/>
<rect x="611.70" y="254.80" width="15.50" height="10.28" fill="#f5a1a4"/>
<rect x="626.20" y="245.52" width="15.50" height="10.28" fill="#fffbfa"/>
<rect x="626.20" y="254.80" width="15.50" height="10.28" fill="#fde0e4"/>
<rect x="640.70" y="245.52" width="15.50" height="10.28" fill="#e4e5e7"/>
<rect x="640.70" y="254.80" width="15.50" height="10.28" fill="#e4e5e7"/>
<rect x="655.20" y="245.52" width="15.50" height="10.28" fill="#e4e5e7"/>
<rect x="655.20" y="254.80" width="15.50" height="10.28" fill="#e4e5e7"/>
<rect x="669.70" y="245.52" width="14.50" height="10.28" fill="#fef6f5"/>
<rect x="669.70" y="254.80" width="14.50" height="10.28" fill="#fde3e6"/>
<rect x="437.70" y="264.08" width="15.50" height="10.28" fill="#fde3e5"/>
<rect x="437.70" y="273.36" width="15.50" height="10.28" fill="#f9d0dc"/>
<rect x="452.20" y="264.08" width="15.50" height="10.28" fill="#e4e5e7"/>
<rect x="452.20" y="273.36" width="15.50" height="10.28" fill="#e4e5e7"/>
<rect x="466.70" y="264.08" width="15.50" height="10.28" fill="#e4e5e7"/>
<rect x="466.70" y="273.36" width="15.50" height="10.28" fill="#e4e5e7"/>
<rect x="481.20" y="264.08" width="15.50" height="10.28" fill="#e4e5e7"/>
<rect x="481.20" y="273.36" width="15.50" height="10.28" fill="#e4e5e7"/>
<rect x="495.70" y="264.08" width="15.50" height="10.28" fill="#e4e5e7"/>
<rect x="495.70" y="273.36" width="15.50" height="10.28" fill="#e4e5e7"/>
<rect x="510.20" y="264.08" width="15.50" height="10.28" fill="#fbd6de"/>
<rect x="510.20" y="273.36" width="15.50" height="10.28" fill="#fbd6de"/>
<rect x="524.70" y="264.08" width="15.50" height="10.28" fill="#e4e5e7"/>
<rect x="524.70" y="273.36" width="15.50" height="10.28" fill="#e4e5e7"/>
<rect x="539.20" y="264.08" width="15.50" height="10.28" fill="#fef4f3"/>
<rect x="539.20" y="273.36" width="15.50" height="10.28" fill="#fde2e5"/>
<rect x="553.70" y="264.08" width="15.50" height="10.28" fill="#fde8ea"/>
<rect x="553.70" y="273.36" width="15.50" height="10.28" fill="#f8c3d7"/>
<rect x="568.20" y="264.08" width="15.50" height="10.28" fill="#e4e5e7"/>
<rect x="568.20" y="273.36" width="15.50" height="10.28" fill="#e4e5e7"/>
<rect x="582.70" y="264.08" width="15.50" height="10.28" fill="#e4e5e7"/>
<rect x="582.70" y="273.36" width="15.50" height="10.28" fill="#e4e5e7"/>
<rect x="597.20" y="264.08" width="15.50" height="10.28" fill="#fde0e4"/>
<rect x="597.20" y="273.36" width="15.50" height="10.28" fill="#f5a1a4"/>
<rect x="611.70" y="264.08" width="15.50" height="10.28" fill="#e4e5e7"/>
<rect x="611.70" y="273.36" width="15.50" height="10.28" fill="#fde6e8"/>
<rect x="626.20" y="264.08" width="15.50" height="10.28" fill="#f9cbdc"/>
<rect x="626.20" y="273.36" width="15.50" height="10.28" fill="#f8c0d4"/>
<rect x="640.70" y="264.08" width="15.50" height="10.28" fill="#e4e5e7"/>
<rect x="640.70" y="273.36" width="15.50" height="10.28" fill="#fffbf8"/>
<rect x="655.20" y="264.08" width="15.50" height="10.28" fill="#e4e5e7"/>
<rect x="655.20" y="273.36" width="15.50" height="10.28" fill="#fde8ea"/>
<rect x="669.70" y="264.08" width="14.50" height="10.28" fill="#f9cedc"/>
<rect x="669.70" y="273.36" width="14.50" height="10.28" fill="#f8bdd1"/>
<rect x="437.70" y="282.64" width="15.50" height="10.28" fill="#e4e5e7"/>
<rect x="437.70" y="291.92" width="15.50" height="10.28" fill="#ffffff"/>
<rect x="452.20" y="282.64" width="15.50" height="10.28" fill="#e4e5e7"/>
<rect x="452.20" y="291.92" width="15.50" height="10.28" fill="#e4e5e7"/>
<rect x="466.70" y="282.64" width="15.50" height="10.28" fill="#e4e5e7"/>
<rect x="466.70" y="291.92" width="15.50" height="10.28" fill="#e4e5e7"/>
<rect x="481.20" y="282.64" width="15.50" height="10.28" fill="#e4e5e7"/>
<rect x="481.20" y="291.92" width="15.50" height="10.28" fill="#e4e5e7"/>
<rect x="495.70" y="282.64" width="15.50" height="10.28" fill="#e4e5e7"/>
<rect x="495.70" y="291.92" width="15.50" height="10.28" fill="#e4e5e7"/>
<rect x="510.20" y="282.64" width="15.50" height="10.28" fill="#e4e5e7"/>
<rect x="510.20" y="291.92" width="15.50" height="10.28" fill="#fcdde1"/>
<rect x="524.70" y="282.64" width="15.50" height="10.28" fill="#e4e5e7"/>
<rect x="524.70" y="291.92" width="15.50" height="10.28" fill="#e4e5e7"/>
<rect x="539.20" y="282.64" width="15.50" height="10.28" fill="#e4e5e7"/>
<rect x="539.20" y="291.92" width="15.50" height="10.28" fill="#fff7f6"/>
<rect x="553.70" y="282.64" width="15.50" height="10.28" fill="#fde9eb"/>
<rect x="553.70" y="291.92" width="15.50" height="10.28" fill="#fef8f6"/>
<rect x="568.20" y="282.64" width="15.50" height="10.28" fill="#e4e5e7"/>
<rect x="568.20" y="291.92" width="15.50" height="10.28" fill="#e4e5e7"/>
<rect x="582.70" y="282.64" width="15.50" height="10.28" fill="#e4e5e7"/>
<rect x="582.70" y="291.92" width="15.50" height="10.28" fill="#e4e5e7"/>
<rect x="597.20" y="282.64" width="15.50" height="10.28" fill="#fde1e4"/>
<rect x="597.20" y="291.92" width="15.50" height="10.28" fill="#e4e5e7"/>
<rect x="611.70" y="282.64" width="15.50" height="10.28" fill="#e4e5e7"/>
<rect x="611.70" y="291.92" width="15.50" height="10.28" fill="#e4e5e7"/>
<rect x="626.20" y="282.64" width="15.50" height="10.28" fill="#e4e5e7"/>
<rect x="626.20" y="291.92" width="15.50" height="10.28" fill="#fef3f2"/>
<rect x="640.70" y="282.64" width="15.50" height="10.28" fill="#fdedee"/>
<rect x="640.70" y="291.92" width="15.50" height="10.28" fill="#fbd6df"/>
<rect x="655.20" y="282.64" width="15.50" height="10.28" fill="#e4e5e7"/>
<rect x="655.20" y="291.92" width="15.50" height="10.28" fill="#e4e5e7"/>
<rect x="669.70" y="282.64" width="14.50" height="10.28" fill="#ffffff"/>
<rect x="669.70" y="291.92" width="14.50" height="10.28" fill="#fef1f0"/>
<rect x="437.70" y="301.20" width="15.50" height="10.28" fill="#e4e5e7"/>
<rect x="437.70" y="310.48" width="15.50" height="10.28" fill="#ffffff"/>
<rect x="452.20" y="301.20" width="15.50" height="10.28" fill="#e4e5e7"/>
<rect x="452.20" y="310.48" width="15.50" height="10.28" fill="#e4e5e7"/>
<rect x="466.70" y="301.20" width="15.50" height="10.28" fill="#e4e5e7"/>
<rect x="466.70" y="310.48" width="15.50" height="10.28" fill="#e4e5e7"/>
<rect x="481.20" y="301.20" width="15.50" height="10.28" fill="#e4e5e7"/>
<rect x="481.20" y="310.48" width="15.50" height="10.28" fill="#e4e5e7"/>
<rect x="495.70" y="301.20" width="15.50" height="10.28" fill="#e4e5e7"/>
<rect x="495.70" y="310.48" width="15.50" height="10.28" fill="#e4e5e7"/>
<rect x="510.20" y="301.20" width="15.50" height="10.28" fill="#e4e5e7"/>
<rect x="510.20" y="310.48" width="15.50" height="10.28" fill="#e4e5e7"/>
<rect x="524.70" y="301.20" width="15.50" height="10.28" fill="#e4e5e7"/>
<rect x="524.70" y="310.48" width="15.50" height="10.28" fill="#e4e5e7"/>
<rect x="539.20" y="301.20" width="15.50" height="10.28" fill="#e4e5e7"/>
<rect x="539.20" y="310.48" width="15.50" height="10.28" fill="#e4e5e7"/>
<rect x="553.70" y="301.20" width="15.50" height="10.28" fill="#e4e5e7"/>
<rect x="553.70" y="310.48" width="15.50" height="10.28" fill="#e4e5e7"/>
<rect x="568.20" y="301.20" width="15.50" height="10.28" fill="#e4e5e7"/>
<rect x="568.20" y="310.48" width="15.50" height="10.28" fill="#e4e5e7"/>
<rect x="582.70" y="301.20" width="15.50" height="10.28" fill="#e4e5e7"/>
<rect x="582.70" y="310.48" width="15.50" height="10.28" fill="#e4e5e7"/>
<rect x="597.20" y="301.20" width="15.50" height="10.28" fill="#e4e5e7"/>
<rect x="597.20" y="310.48" width="15.50" height="10.28" fill="#e4e5e7"/>
<rect x="611.70" y="301.20" width="15.50" height="10.28" fill="#e4e5e7"/>
<rect x="611.70" y="310.48" width="15.50" height="10.28" fill="#e4e5e7"/>
<rect x="626.20" y="301.20" width="15.50" height="10.28" fill="#e4e5e7"/>
<rect x="626.20" y="310.48" width="15.50" height="10.28" fill="#e4e5e7"/>
<rect x="640.70" y="301.20" width="15.50" height="10.28" fill="#e4e5e7"/>
<rect x="640.70" y="310.48" width="15.50" height="10.28" fill="#e4e5e7"/>
<rect x="655.20" y="301.20" width="15.50" height="10.28" fill="#e4e5e7"/>
<rect x="655.20" y="310.48" width="15.50" height="10.28" fill="#fde8ea"/>
<rect x="669.70" y="301.20" width="14.50" height="10.28" fill="#e4e5e7"/>
<rect x="669.70" y="310.48" width="14.50" height="10.28" fill="#e4e5e7"/>
<rect x="437.70" y="319.76" width="15.50" height="10.28" fill="#9dd7e2"/>
<rect x="437.70" y="329.04" width="15.50" height="9.28" fill="#ffffff"/>
<rect x="452.20" y="319.76" width="15.50" height="10.28" fill="#fffafa"/>
<rect x="452.20" y="329.04" width="15.50" height="9.28" fill="#e4e5e7"/>
<rect x="466.70" y="319.76" width="15.50" height="10.28" fill="#fde3e6"/>
<rect x="466.70" y="329.04" width="15.50" height="9.28" fill="#fef6f5"/>
<rect x="481.20" y="319.76" width="15.50" height="10.28" fill="#e4e5e7"/>
<rect x="481.20" y="329.04" width="15.50" height="9.28" fill="#e4e5e7"/>
<rect x="495.70" y="319.76" width="15.50" height="10.28" fill="#e4e5e7"/>
<rect x="495.70" y="329.04" width="15.50" height="9.28" fill="#e4e5e7"/>
<rect x="510.20" y="319.76" width="15.50" height="10.28" fill="#f5a0a4"/>
<rect x="510.20" y="329.04" width="15.50" height="9.28" fill="#ef8c98"/>
<rect x="524.70" y="319.76" width="15.50" height="10.28" fill="#fbd8e0"/>
<rect x="524.70" y="329.04" width="15.50" height="9.28" fill="#e4e5e7"/>
<rect x="539.20" y="319.76" width="15.50" height="10.28" fill="#f9cbdc"/>
<rect x="539.20" y="329.04" width="15.50" height="9.28" fill="#f9cbdc"/>
<rect x="553.70" y="319.76" width="15.50" height="10.28" fill="#f5a2a6"/>
<rect x="553.70" y="329.04" width="15.50" height="9.28" fill="#fbd5df"/>
<rect x="568.20" y="319.76" width="15.50" height="10.28" fill="#fde9eb"/>
<rect x="568.20" y="329.04" width="15.50" height="9.28" fill="#e4e5e7"/>
<rect x="582.70" y="319.76" width="15.50" height="10.28" fill="#fcdce2"/>
<rect x="582.70" y="329.04" width="15.50" height="9.28" fill="#fffbf9"/>
<rect x="597.20" y="319.76" width="15.50" height="10.28" fill="#f6a4a8"/>
<rect x="597.20" y="329.04" width="15.50" height="9.28" fill="#f9cbdc"/>
<rect x="611.70" y="319.76" width="15.50" height="10.28" fill="#ffffff"/>
<rect x="611.70" y="329.04" width="15.50" height="9.28" fill="#fffaf9"/>
<rect x="626.20" y="319.76" width="15.50" height="10.28" fill="#fde0e4"/>
<rect x="626.20" y="329.04" width="15.50" height="9.28" fill="#f8c0d3"/>
<rect x="640.70" y="319.76" width="15.50" height="10.28" fill="#fde0e4"/>
<rect x="640.70" y="329.04" width="15.50" height="9.28" fill="#f8c3d6"/>
<rect x="655.20" y="319.76" width="15.50" height="10.28" fill="#e4e5e7"/>
<rect x="655.20" y="329.04" width="15.50" height="9.28" fill="#e4e5e7"/>
<rect x="669.70" y="319.76" width="14.50" height="10.28" fill="#c0507a"/>
<rect x="669.70" y="329.04" width="14.50" height="9.28" fill="#dd7a8c"/>
<line x1="437.7" x2="684.2" y1="41.36" y2="41.36" stroke="#3a3a3a" stroke-width="1"/>
<line x1="437.7" x2="684.2" y1="59.92" y2="59.92" stroke="#3a3a3a" stroke-width="1"/>
<line x1="437.7" x2="684.2" y1="78.48" y2="78.48" stroke="#3a3a3a" stroke-width="1"/>
<line x1="437.7" x2="684.2" y1="97.04" y2="97.04" stroke="#3a3a3a" stroke-width="1"/>
<line x1="437.7" x2="684.2" y1="115.60" y2="115.60" stroke="#3a3a3a" stroke-width="1"/>
<line x1="437.7" x2="684.2" y1="134.16" y2="134.16" stroke="#3a3a3a" stroke-width="1"/>
<line x1="437.7" x2="684.2" y1="152.72" y2="152.72" stroke="#3a3a3a" stroke-width="1"/>
<line x1="437.7" x2="684.2" y1="171.28" y2="171.28" stroke="#3a3a3a" stroke-width="1"/>
<line x1="437.7" x2="684.2" y1="189.84" y2="189.84" stroke="#3a3a3a" stroke-width="1"/>
<line x1="437.7" x2="684.2" y1="208.40" y2="208.40" stroke="#3a3a3a" stroke-width="1"/>
<line x1="437.7" x2="684.2" y1="226.96" y2="226.96" stroke="#3a3a3a" stroke-width="1"/>
<line x1="437.7" x2="684.2" y1="245.52" y2="245.52" stroke="#3a3a3a" stroke-width="1"/>
<line x1="437.7" x2="684.2" y1="264.08" y2="264.08" stroke="#3a3a3a" stroke-width="1"/>
<line x1="437.7" x2="684.2" y1="282.64" y2="282.64" stroke="#3a3a3a" stroke-width="1"/>
<line x1="437.7" x2="684.2" y1="301.20" y2="301.20" stroke="#3a3a3a" stroke-width="1"/>
<line x1="437.7" x2="684.2" y1="319.76" y2="319.76" stroke="#3a3a3a" stroke-width="1"/>
<rect x="437.7" y="22.8" width="246.5" height="315.52" fill="none" stroke="#231f20" stroke-width="1.3"/>
<rect x="655.60" y="115.80" width="13.70" height="18.16" rx="2" fill="none" stroke="#111" stroke-width="1.5" stroke-dasharray="3.6 2"/>
<text x="671.70" y="123.70" font-size="9" fill="#222">ii</text>
<rect x="655.60" y="171.48" width="13.70" height="18.16" rx="2" fill="none" stroke="#111" stroke-width="1.5" stroke-dasharray="3.6 2"/>
<text x="671.70" y="179.38" font-size="9" fill="#222">iii</text>
<rect x="655.60" y="227.16" width="13.70" height="18.16" rx="2" fill="none" stroke="#111" stroke-width="1.5" stroke-dasharray="3.6 2"/>
<text x="671.70" y="235.06" font-size="9" fill="#222">iv</text>
<rect x="655.60" y="264.28" width="13.70" height="18.16" rx="2" fill="none" stroke="#111" stroke-width="1.5" stroke-dasharray="3.6 2"/>
<text x="671.70" y="272.18" font-size="9" fill="#222">iv</text>
<rect x="655.60" y="301.40" width="13.70" height="18.16" rx="2" fill="none" stroke="#111" stroke-width="1.5" stroke-dasharray="3.6 2"/>
<text x="671.70" y="309.30" font-size="9" fill="#222">iv</text>
<rect x="438.10" y="301.40" width="13.70" height="18.16" rx="2" fill="none" stroke="#111" stroke-width="1.5" stroke-dasharray="3.6 2"/>
<text x="454.20" y="309.30" font-size="9" fill="#777">i</text>
<text x="434.2" y="36.20" font-size="8.2" text-anchor="end">Cancer cell</text>
<text x="434.2" y="54.69" font-size="8.2" text-anchor="end">B cell</text>
<text x="434.2" y="73.18" font-size="8.2" text-anchor="end">Neutrophil</text>
<text x="434.2" y="91.67" font-size="8.2" text-anchor="end">NK cell</text>
<text x="434.2" y="110.16" font-size="8.2" text-anchor="end">Dendritic cell</text>
<text x="434.2" y="128.65" font-size="8.2" text-anchor="end">Endothelial cell</text>
<text x="434.2" y="147.14" font-size="8.2" text-anchor="end">Mast cell</text>
<text x="434.2" y="165.63" font-size="8.2" text-anchor="end">Cytotoxic T cell</text>
<text x="434.2" y="184.12" font-size="8.2" text-anchor="end">Helper T cell</text>
<text x="434.2" y="202.61" font-size="8.2" text-anchor="end">Regulatory T cell</text>
<text x="434.2" y="221.10" font-size="8.2" text-anchor="end">Other T cell</text>
<text x="434.2" y="239.59" font-size="8.2" text-anchor="end">CD163<tspan font-size="5" dy="-2.6">−</tspan><tspan dy="2.6"> macrophage</tspan></text>
<text x="434.2" y="258.08" font-size="8.2" text-anchor="end">CD163<tspan font-size="5" dy="-2.6">+</tspan><tspan dy="2.6"> macrophage</tspan></text>
<text x="434.2" y="276.57" font-size="8.2" text-anchor="end">Classical monocyte</text>
<text x="434.2" y="295.06" font-size="8.2" text-anchor="end">Non-classical monocyte</text>
<text x="434.2" y="313.55" font-size="8.2" text-anchor="end">Intermediate monocyte</text>
<text x="434.2" y="332.04" font-size="8.2" text-anchor="end">Unclassified</text>
<text transform="translate(447.60,342) rotate(-90) scale(0.91,1)" font-size="8.2" text-anchor="end">Cancer cell</text>
<text transform="translate(461.80,342) rotate(-90) scale(0.91,1)" font-size="8.2" text-anchor="end">B cell</text>
<text transform="translate(476.00,342) rotate(-90) scale(0.91,1)" font-size="8.2" text-anchor="end">Neutrophil</text>
<text transform="translate(490.20,342) rotate(-90) scale(0.91,1)" font-size="8.2" text-anchor="end">NK cell</text>
<text transform="translate(504.40,342) rotate(-90) scale(0.91,1)" font-size="8.2" text-anchor="end">Dendritic cell</text>
<text transform="translate(518.60,342) rotate(-90) scale(0.91,1)" font-size="8.2" text-anchor="end">Endothelial cell</text>
<text transform="translate(532.80,342) rotate(-90) scale(0.91,1)" font-size="8.2" text-anchor="end">Mast cell</text>
<text transform="translate(547.00,342) rotate(-90) scale(0.91,1)" font-size="8.2" text-anchor="end">Cytotoxic T cell</text>
<text transform="translate(561.20,342) rotate(-90) scale(0.91,1)" font-size="8.2" text-anchor="end">Helper T cell</text>
<text transform="translate(575.40,342) rotate(-90) scale(0.91,1)" font-size="8.2" text-anchor="end">Regulatory T cell</text>
<text transform="translate(589.60,342) rotate(-90) scale(0.91,1)" font-size="8.2" text-anchor="end">Other T cell</text>
<text transform="translate(603.80,342) rotate(-90) scale(0.91,1)" font-size="8.2" text-anchor="end">CD163<tspan font-size="5" dy="-2.6">−</tspan><tspan dy="2.6"> macrophage</tspan></text>
<text transform="translate(618.00,342) rotate(-90) scale(0.91,1)" font-size="8.2" text-anchor="end">CD163<tspan font-size="5" dy="-2.6">+</tspan><tspan dy="2.6"> macrophage</tspan></text>
<text transform="translate(632.20,342) rotate(-90) scale(0.91,1)" font-size="8.2" text-anchor="end">Classical monocyte</text>
<text transform="translate(646.40,342) rotate(-90) scale(0.91,1)" font-size="8.2" text-anchor="end">Non-classical monocyte</text>
<text transform="translate(660.60,342) rotate(-90) scale(0.91,1)" font-size="8.2" text-anchor="end">Intermediate monocyte</text>
<text transform="translate(674.80,342) rotate(-90) scale(0.91,1)" font-size="8.2" text-anchor="end">Unclassified</text>
<rect x="89.5" y="0.4" width="46.099999999999994" height="19.200000000000003" fill="#fff" stroke="#333" stroke-width="0.8"/>
<line x1="91.0" x2="134.1" y1="10" y2="10" stroke="#aaa" stroke-width="1.1" stroke-dasharray="2 1.2"/>
<text transform="translate(112.55,8.200000000000001) scale(0.93,1)" font-size="8.5" text-anchor="middle">EGFR</text>
<text transform="translate(112.55,17.900000000000002) scale(0.92,1)" font-size="8.4" text-anchor="middle">EGFR TP53</text>
<rect x="141.9" y="13.3" width="50.6" height="5" fill="url(#gav)" stroke="#555" stroke-width="0.6"/>
<rect x="197.9" y="13.3" width="50.6" height="5" fill="url(#gint)" stroke="#555" stroke-width="0.6"/>
<text x="167.20000000000002" y="11.2" font-size="7.6" text-anchor="middle">Avoidance</text>
<text x="223.20000000000002" y="11.2" font-size="7.6" text-anchor="middle">Interaction</text>
<rect x="438.3" y="0.4" width="46.5" height="20.0" fill="#fff" stroke="#333" stroke-width="0.8"/>
<line x1="439.8" x2="483.3" y1="10.4" y2="10.4" stroke="#aaa" stroke-width="1.1" stroke-dasharray="2 1.2"/>
<text transform="translate(461.55,8.9) scale(0.93,1)" font-size="8.5" text-anchor="middle">KRAS</text>
<text transform="translate(461.55,18.3) scale(0.92,1)" font-size="8.4" text-anchor="middle">KRAS TP53</text>
<rect x="491.2" y="11.6" width="50.6" height="5" fill="url(#gav)" stroke="#555" stroke-width="0.6"/>
<rect x="547.3" y="11.6" width="50.6" height="5" fill="url(#gint)" stroke="#555" stroke-width="0.6"/>
<text x="516.5" y="9.6" font-size="7.6" text-anchor="middle">Avoidance</text>
<text x="572.5999999999999" y="9.6" font-size="7.6" text-anchor="middle">Interaction</text>
<text x="26.0" y="24.4" font-size="18.5" font-weight="bold">A</text>
<text x="362.4" y="24.4" font-size="18.5" font-weight="bold">C</text>
<text x="24.6" y="457" font-size="18" font-weight="bold">B</text>
<line x1="67" x2="67" y1="466.50" y2="607.60" stroke="#111" stroke-width="1.4"/>
<line x1="66.3" x2="119.7" y1="607.0" y2="607.0" stroke="#111" stroke-width="1.4"/>
<line x1="61.2" x2="67" y1="607.00" y2="607.00" stroke="#111" stroke-width="1.3"/>
<text x="59" y="610.40" font-size="9.5" text-anchor="end">0</text>
<line x1="61.2" x2="67" y1="578.90" y2="578.90" stroke="#111" stroke-width="1.3"/>
<text x="59" y="582.30" font-size="9.5" text-anchor="end">5</text>
<line x1="61.2" x2="67" y1="550.80" y2="550.80" stroke="#111" stroke-width="1.3"/>
<text x="59" y="554.20" font-size="9.5" text-anchor="end">10</text>
<line x1="61.2" x2="67" y1="522.70" y2="522.70" stroke="#111" stroke-width="1.3"/>
<text x="59" y="526.10" font-size="9.5" text-anchor="end">15</text>
<line x1="61.2" x2="67" y1="494.60" y2="494.60" stroke="#111" stroke-width="1.3"/>
<text x="59" y="498.00" font-size="9.5" text-anchor="end">20</text>
<line x1="61.2" x2="67" y1="466.50" y2="466.50" stroke="#111" stroke-width="1.3"/>
<text x="59" y="469.90" font-size="9.5" text-anchor="end">25</text>
<circle cx="81.8" cy="599.0" r="2.8" fill="#5d5baa"/>
<circle cx="76.5" cy="604.3" r="2.8" fill="#5d5baa"/>
<circle cx="79.5" cy="604" r="2.8" fill="#5d5baa"/>
<circle cx="82.5" cy="604.2" r="2.8" fill="#5d5baa"/>
<circle cx="85.5" cy="604.3" r="2.8" fill="#5d5baa"/>
<circle cx="87" cy="604.5" r="2.8" fill="#5d5baa"/>
<circle cx="76.5" cy="606.9" r="2.8" fill="#5d5baa"/>
<circle cx="79.5" cy="607" r="2.8" fill="#5d5baa"/>
<circle cx="82.5" cy="607" r="2.8" fill="#5d5baa"/>
<circle cx="85.5" cy="607" r="2.8" fill="#5d5baa"/>
<circle cx="87" cy="606.9" r="2.8" fill="#5d5baa"/>
<circle cx="104.3" cy="488.2" r="2.6" fill="#b2bae2"/>
<circle cx="104.3" cy="524.4" r="2.6" fill="#b2bae2"/>
<circle cx="102.7" cy="535.7" r="2.6" fill="#b2bae2"/>
<circle cx="105.8" cy="539.1" r="2.6" fill="#b2bae2"/>
<circle cx="102.7" cy="551.5" r="2.6" fill="#b2bae2"/>
<circle cx="106.2" cy="553.8" r="2.6" fill="#b2bae2"/>
<circle cx="109.2" cy="557.2" r="2.6" fill="#b2bae2"/>
<circle cx="102.7" cy="563.0" r="2.6" fill="#b2bae2"/>
<circle cx="106" cy="562.0" r="2.6" fill="#b2bae2"/>
<circle cx="104.2" cy="569.2" r="2.6" fill="#b2bae2"/>
<circle cx="99.5" cy="576.8" r="2.6" fill="#b2bae2"/>
<circle cx="102.7" cy="577.5" r="2.6" fill="#b2bae2"/>
<circle cx="106.5" cy="580.6" r="2.6" fill="#b2bae2"/>
<circle cx="109.6" cy="581.9" r="2.6" fill="#b2bae2"/>
<circle cx="102.7" cy="586.3" r="2.6" fill="#b2bae2"/>
<circle cx="105.8" cy="589.2" r="2.6" fill="#b2bae2"/>
<circle cx="104.2" cy="602.4" r="2.6" fill="#b2bae2"/>
<line x1="74.5" x2="89.5" y1="606.44" y2="606.44" stroke="#111" stroke-width="1.3"/>
<line x1="95.15" x2="113.75" y1="561.48" y2="561.48" stroke="#111" stroke-width="1.3"/>
<text x="92.05" y="478.5" font-size="9.1" text-anchor="middle">&lt;0.0001</text>
<line x1="81.4" x2="104.3" y1="480.6" y2="480.6" stroke="#111" stroke-width="0.9"/>
<text x="92" y="619.6" font-size="11" text-anchor="middle">Endothelial</text>
<text x="92" y="628.4" font-size="11" text-anchor="middle">cells</text>
<line x1="137.5" x2="137.5" y1="466.20" y2="607.60" stroke="#111" stroke-width="1.4"/>
<line x1="136.8" x2="189.7" y1="607.0" y2="607.0" stroke="#111" stroke-width="1.4"/>
<line x1="131.7" x2="137.5" y1="607.00" y2="607.00" stroke="#111" stroke-width="1.3"/>
<text x="129.5" y="610.40" font-size="9.5" text-anchor="end">0</text>
<line x1="131.7" x2="137.5" y1="571.80" y2="571.80" stroke="#111" stroke-width="1.3"/>
<text x="129.5" y="575.20" font-size="9.5" text-anchor="end">2</text>
<line x1="131.7" x2="137.5" y1="536.60" y2="536.60" stroke="#111" stroke-width="1.3"/>
<text x="129.5" y="540.00" font-size="9.5" text-anchor="end">4</text>
<line x1="131.7" x2="137.5" y1="501.40" y2="501.40" stroke="#111" stroke-width="1.3"/>
<text x="129.5" y="504.80" font-size="9.5" text-anchor="end">6</text>
<line x1="131.7" x2="137.5" y1="466.20" y2="466.20" stroke="#111" stroke-width="1.3"/>
<text x="129.5" y="469.60" font-size="9.5" text-anchor="end">8</text>
<circle cx="152.1" cy="507.8" r="2.8" fill="#5d5baa"/>
<circle cx="152.1" cy="523" r="2.8" fill="#5d5baa"/>
<circle cx="152.1" cy="532.2" r="2.8" fill="#5d5baa"/>
<circle cx="152.1" cy="538.5" r="2.8" fill="#5d5baa"/>
<circle cx="151.5" cy="540.5" r="2.8" fill="#5d5baa"/>
<circle cx="152" cy="545.8" r="2.8" fill="#5d5baa"/>
<circle cx="152.3" cy="556" r="2.8" fill="#5d5baa"/>
<circle cx="152.3" cy="560.5" r="2.8" fill="#5d5baa"/>
<circle cx="152.3" cy="567" r="2.8" fill="#5d5baa"/>
<circle cx="150.8" cy="575.4" r="2.8" fill="#5d5baa"/>
<circle cx="153.3" cy="578" r="2.8" fill="#5d5baa"/>
<circle cx="151" cy="580" r="2.8" fill="#5d5baa"/>
<circle cx="152" cy="584" r="2.8" fill="#5d5baa"/>
<circle cx="150" cy="587" r="2.8" fill="#5d5baa"/>
<circle cx="154" cy="588" r="2.8" fill="#5d5baa"/>
<circle cx="152" cy="591" r="2.8" fill="#5d5baa"/>
<circle cx="149" cy="593" r="2.8" fill="#5d5baa"/>
<circle cx="155" cy="594" r="2.8" fill="#5d5baa"/>
<circle cx="151" cy="596" r="2.8" fill="#5d5baa"/>
<circle cx="147.5" cy="598" r="2.8" fill="#5d5baa"/>
<circle cx="152" cy="598" r="2.8" fill="#5d5baa"/>
<circle cx="156.5" cy="598" r="2.8" fill="#5d5baa"/>
<circle cx="149" cy="600" r="2.8" fill="#5d5baa"/>
<circle cx="154" cy="600.5" r="2.8" fill="#5d5baa"/>
<circle cx="146.5" cy="601.5" r="2.8" fill="#5d5baa"/>
<circle cx="151" cy="602" r="2.8" fill="#5d5baa"/>
<circle cx="157" cy="602" r="2.8" fill="#5d5baa"/>
<circle cx="149" cy="603.5" r="2.8" fill="#5d5baa"/>
<circle cx="153.5" cy="604" r="2.8" fill="#5d5baa"/>
<circle cx="148" cy="605.5" r="2.8" fill="#5d5baa"/>
<circle cx="152" cy="606" r="2.8" fill="#5d5baa"/>
<circle cx="156" cy="605.5" r="2.8" fill="#5d5baa"/>
<circle cx="150" cy="607.5" r="2.8" fill="#5d5baa"/>
<circle cx="154" cy="608" r="2.8" fill="#5d5baa"/>
<circle cx="152" cy="609" r="2.8" fill="#5d5baa"/>
<circle cx="174.5" cy="480.9" r="2.6" fill="#b2bae2"/>
<circle cx="174.5" cy="516.3" r="2.6" fill="#b2bae2"/>
<circle cx="174.5" cy="538.4" r="2.6" fill="#b2bae2"/>
<circle cx="172.2" cy="557.5" r="2.6" fill="#b2bae2"/>
<circle cx="174.7" cy="561.8" r="2.6" fill="#b2bae2"/>
<circle cx="174.7" cy="567.6" r="2.6" fill="#b2bae2"/>
<circle cx="172.8" cy="576" r="2.6" fill="#b2bae2"/>
<circle cx="170.2" cy="579.9" r="2.6" fill="#b2bae2"/>
<circle cx="176" cy="578.6" r="2.6" fill="#b2bae2"/>
<circle cx="179.3" cy="579.3" r="2.6" fill="#b2bae2"/>
<circle cx="174.7" cy="583.2" r="2.6" fill="#b2bae2"/>
<circle cx="177" cy="583.5" r="2.6" fill="#b2bae2"/>
<circle cx="174.7" cy="589" r="2.6" fill="#b2bae2"/>
<circle cx="178" cy="592.3" r="2.6" fill="#b2bae2"/>
<circle cx="172.2" cy="598.7" r="2.6" fill="#b2bae2"/>
<circle cx="176.7" cy="598.1" r="2.6" fill="#b2bae2"/>
<line x1="144.8" x2="159.8" y1="583.59" y2="583.59" stroke="#111" stroke-width="1.3"/>
<line x1="167.0" x2="182.0" y1="569.34" y2="569.34" stroke="#111" stroke-width="1.3"/>
<text x="163.35" y="473.3" font-size="9.1" text-anchor="middle">0.0164</text>
<line x1="152" x2="174.7" y1="475.6" y2="475.6" stroke="#111" stroke-width="0.9"/>
<text x="163" y="619.6" font-size="11" text-anchor="middle">Classical</text>
<text x="163" y="628.4" font-size="11" text-anchor="middle">monocytes</text>
<line x1="225" x2="225" y1="467.00" y2="608.10" stroke="#111" stroke-width="1.4"/>
<line x1="224.3" x2="278" y1="607.5" y2="607.5" stroke="#111" stroke-width="1.4"/>
<line x1="219.2" x2="225" y1="607.50" y2="607.50" stroke="#111" stroke-width="1.3"/>
<text x="217" y="610.90" font-size="9.5" text-anchor="end">0</text>
<line x1="219.2" x2="225" y1="579.40" y2="579.40" stroke="#111" stroke-width="1.3"/>
<text x="217" y="582.80" font-size="9.5" text-anchor="end">1</text>
<line x1="219.2" x2="225" y1="551.30" y2="551.30" stroke="#111" stroke-width="1.3"/>
<text x="217" y="554.70" font-size="9.5" text-anchor="end">2</text>
<line x1="219.2" x2="225" y1="523.20" y2="523.20" stroke="#111" stroke-width="1.3"/>
<text x="217" y="526.60" font-size="9.5" text-anchor="end">3</text>
<line x1="219.2" x2="225" y1="495.10" y2="495.10" stroke="#111" stroke-width="1.3"/>
<text x="217" y="498.50" font-size="9.5" text-anchor="end">4</text>
<line x1="219.2" x2="225" y1="467.00" y2="467.00" stroke="#111" stroke-width="1.3"/>
<text x="217" y="470.40" font-size="9.5" text-anchor="end">5</text>
<circle cx="240.3" cy="575.4" r="2.8" fill="#5d5baa"/>
<circle cx="240.3" cy="579.3" r="2.8" fill="#5d5baa"/>
<circle cx="240.3" cy="583.2" r="2.8" fill="#5d5baa"/>
<circle cx="240.3" cy="586.4" r="2.8" fill="#5d5baa"/>
<circle cx="240.3" cy="592.3" r="2.8" fill="#5d5baa"/>
<circle cx="240.3" cy="594.9" r="2.8" fill="#5d5baa"/>
<circle cx="239" cy="597.4" r="2.8" fill="#5d5baa"/>
<circle cx="241.5" cy="598.1" r="2.8" fill="#5d5baa"/>
<circle cx="240" cy="600" r="2.8" fill="#5d5baa"/>
<circle cx="236" cy="603" r="2.8" fill="#5d5baa"/>
<circle cx="239" cy="603" r="2.8" fill="#5d5baa"/>
<circle cx="242" cy="603" r="2.8" fill="#5d5baa"/>
<circle cx="245" cy="603.5" r="2.8" fill="#5d5baa"/>
<circle cx="234.5" cy="605.5" r="2.8" fill="#5d5baa"/>
<circle cx="237.5" cy="605.5" r="2.8" fill="#5d5baa"/>
<circle cx="240.5" cy="605.5" r="2.8" fill="#5d5baa"/>
<circle cx="243.5" cy="605.5" r="2.8" fill="#5d5baa"/>
<circle cx="246" cy="605.5" r="2.8" fill="#5d5baa"/>
<circle cx="236" cy="607.5" r="2.8" fill="#5d5baa"/>
<circle cx="239" cy="607.5" r="2.8" fill="#5d5baa"/>
<circle cx="242" cy="607.5" r="2.8" fill="#5d5baa"/>
<circle cx="245" cy="607.5" r="2.8" fill="#5d5baa"/>
<circle cx="263" cy="481.8" r="2.6" fill="#b2bae2"/>
<circle cx="263" cy="530.5" r="2.6" fill="#b2bae2"/>
<circle cx="263" cy="531" r="2.6" fill="#b2bae2"/>
<circle cx="263" cy="543.6" r="2.6" fill="#b2bae2"/>
<circle cx="263" cy="580" r="2.6" fill="#b2bae2"/>
<circle cx="259" cy="592" r="2.6" fill="#b2bae2"/>
<circle cx="262" cy="591.5" r="2.6" fill="#b2bae2"/>
<circle cx="266" cy="592.5" r="2.6" fill="#b2bae2"/>
<circle cx="268.5" cy="593" r="2.6" fill="#b2bae2"/>
<circle cx="261" cy="595.5" r="2.6" fill="#b2bae2"/>
<circle cx="264" cy="597" r="2.6" fill="#b2bae2"/>
<circle cx="258.5" cy="598" r="2.6" fill="#b2bae2"/>
<circle cx="262.5" cy="600" r="2.6" fill="#b2bae2"/>
<circle cx="266" cy="601" r="2.6" fill="#b2bae2"/>
<circle cx="259" cy="603.5" r="2.6" fill="#b2bae2"/>
<circle cx="263" cy="604" r="2.6" fill="#b2bae2"/>
<circle cx="267" cy="604.5" r="2.6" fill="#b2bae2"/>
<circle cx="260" cy="606.5" r="2.6" fill="#b2bae2"/>
<circle cx="264.5" cy="607" r="2.6" fill="#b2bae2"/>
<circle cx="268" cy="607" r="2.6" fill="#b2bae2"/>
<line x1="232.9" x2="247.9" y1="601.04" y2="601.04" stroke="#111" stroke-width="1.3"/>
<line x1="255.5" x2="270.5" y1="583.90" y2="583.90" stroke="#111" stroke-width="1.3"/>
<text x="251.45" y="473.7" font-size="9.1" text-anchor="middle">0.0012</text>
<line x1="240.2" x2="262.7" y1="476.0" y2="476.0" stroke="#111" stroke-width="0.9"/>
<text x="252.5" y="619.6" font-size="11" text-anchor="middle">Intermediate</text>
<text x="252.5" y="628.4" font-size="11" text-anchor="middle">monocytes</text>
<text transform="translate(41.4,537) rotate(-90)" font-size="11" text-anchor="middle">Proportion of total cells (%)</text>
<circle cx="290" cy="470.6" r="2.9" fill="#5d5baa"/>
<circle cx="290" cy="482.6" r="2.9" fill="#b2bae2"/>
<text x="296.6" y="473.8" font-size="9.2">KRAS</text>
<text x="296.6" y="486.3" font-size="9.2">KRAS TP53</text>
</svg>
</body></html>
